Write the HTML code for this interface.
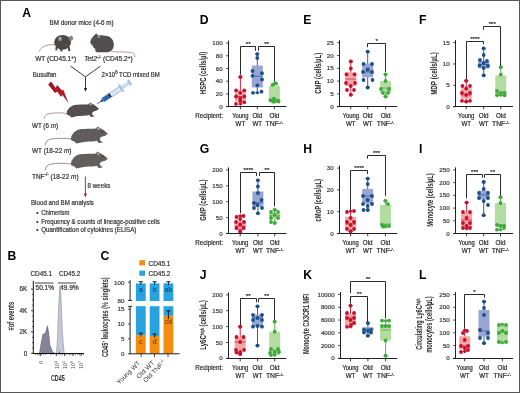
<!DOCTYPE html>
<html><head><meta charset="utf-8"><title>Figure</title>
<style>
html,body{margin:0;padding:0;background:#fff;}
svg{display:block;font-family:"Liberation Sans", sans-serif;will-change:transform;}
</style></head>
<body>
<svg width="520" height="393" viewBox="0 0 520 393">
<rect x="0.5" y="0.5" width="519" height="392" fill="#fff" stroke="#565656" stroke-width="1"/>
<text x="22.20" y="16.50" font-size="12.2" text-anchor="start" fill="#000" font-weight="bold">A</text>
<text x="49.60" y="25.00" font-size="6.4" text-anchor="start" fill="#333" stroke="#333" stroke-width="0.2" textLength="63.90" lengthAdjust="spacingAndGlyphs">BM donor mice (4-6 m)</text>
<path d="M55.5,44.8 C51,44.2 45,45 41.8,47.6 C40.3,48.8 39.6,50.3 39.6,51.6" fill="none" stroke="#a08e93" stroke-width="0.9"/>
<path d="M56.6,47 L56.3,50.4 M61.3,48 L61.3,51.6 M68.8,47 L69.4,51.1" stroke="#4c4645" stroke-width="2"/>
<ellipse cx="62.6" cy="42.3" rx="8.4" ry="7.4" fill="#4c4645"/>
<ellipse cx="71.0" cy="38.2" rx="2.1" ry="2.5" fill="#8a8086"/>
<ellipse cx="60.1" cy="38.9" rx="1.9" ry="2.1" fill="#a39ca1"/>
<circle cx="66" cy="45" r="1" fill="#6d686c" opacity="0.7"/>
<path d="M111.5,51.6 C119,52.2 127,51.6 131.5,52.6 C134,53.2 135,55 134.8,57.2" fill="none" stroke="#a08e93" stroke-width="0.9"/>
<path d="M90.3,42 C90.5,39.5 93,36 95.3,34.2 L96.4,33.2 L97.6,35.2 C100,35 104,35.2 107.5,36 C111.5,37.2 113.8,40.5 113.8,44.5 C113.8,48.5 112,51.5 108,52.2 L97,52.2 C95.5,52 95,50.7 95.4,49.2 C94,48.2 93,46.8 92.4,45.6 C91.4,44.6 90.3,43.5 90.3,42 Z" fill="#524e4f"/>
<ellipse cx="98.9" cy="36.6" rx="1.3" ry="1.6" fill="#9d9196"/>
<ellipse cx="92.8" cy="45.3" rx="1.1" ry="0.8" fill="#8d8589"/>
<text x="35.20" y="61.00" font-size="6.4" text-anchor="start" fill="#333" stroke="#333" stroke-width="0.2" textLength="40.90" lengthAdjust="spacingAndGlyphs">WT (CD45.1<tspan font-size="4.5" dy="-2.4">+</tspan><tspan dy="2.4">)</tspan></text>
<text x="84.20" y="61.30" font-size="6.4" text-anchor="start" fill="#333" stroke="#333" stroke-width="0.2" textLength="48.50" lengthAdjust="spacingAndGlyphs"><tspan font-style="italic">Tet2</tspan><tspan font-size="4.5" dy="-2.4">-/-</tspan><tspan dy="2.4"> (CD45.2</tspan><tspan font-size="4.5" dy="-2.4">+</tspan><tspan dy="2.4">)</tspan></text>
<path d="M70.6,66.2 L85.5,76.8 L100.4,66.2 M85.5,76.8 L85.5,88.5" fill="none" stroke="#222" stroke-width="0.9"/>
<path d="M83.9,88 L87.1,88 L85.5,91.8 Z" fill="#222"/>
<text x="32.80" y="76.80" font-size="6.4" text-anchor="start" fill="#333" stroke="#333" stroke-width="0.2" textLength="23.60" lengthAdjust="spacingAndGlyphs">Busulfan</text>
<text x="101.60" y="76.60" font-size="6.4" text-anchor="start" fill="#333" stroke="#333" stroke-width="0.2" textLength="58.20" lengthAdjust="spacingAndGlyphs">2×10<tspan font-size="4.5" dy="-2.4">6</tspan><tspan dy="2.4"> TCD mixed BM</tspan></text>
<path d="M48.2,84.4 L51.1,81.6 L55.7,88.0 L57.1,85.1 L62.1,90.8 L63.2,89.4 L68.5,103.3 L62.5,95.1 L61.0,96.7 L57.1,91.5 L55.0,93.0 Z" fill="#9c1222"/>
<path d="M50.8,83.2 L55.4,89.6 L57.2,87.2 L61.8,92.6 L63.0,91.5 L66.5,99.5 L62.2,93.8 L60.8,95.2 L57.0,89.9 L55.2,91.3 Z" fill="#d4212d" opacity="0.6"/>
<g transform="translate(97.4,103.6) rotate(-33.08)">
<rect x="0" y="-0.35" width="5" height="0.7" fill="#4a5568"/>
<rect x="4.5" y="-1.2" width="2.4" height="2.4" fill="#1d3f73"/>
<rect x="6.5" y="-2.3" width="21.5" height="4.6" fill="#d6e4f3" stroke="#6f93c2" stroke-width="0.5"/>
<rect x="6.7" y="-2.1" width="7.6" height="4.2" fill="#2f62a6"/>
<rect x="14.2" y="-2.1" width="1.5" height="4.2" fill="#141414"/>
<rect x="27.6" y="-3.9" width="1.6" height="7.8" fill="#bcd1ea" stroke="#7c9cc6" stroke-width="0.4"/>
<rect x="29.2" y="-1.2" width="8.6" height="2.4" fill="#d3e1f1" stroke="#8eabd0" stroke-width="0.4"/>
<rect x="37.6" y="-2.8" width="1.8" height="5.6" fill="#b7cde6" stroke="#7c9cc6" stroke-width="0.4"/>
</g>
<g transform="translate(66.70,117.30) scale(0.88)">
<path d="M0.5,-4.2 C-6,-5.4 -14,-5.2 -20,-4.2 C-23.5,-3.5 -25.5,-1.5 -25.8,2" fill="none" stroke="#a08e93" stroke-width="1"/>
<path d="M0,-3.8 C0,-7 0.5,-8 1.5,-8.9 C3,-11 4.5,-12.4 6.5,-13.2 C8.5,-14 10.5,-14.2 12.3,-14.3 C15,-14.5 17,-14.6 19.5,-14.6 C21.5,-14.7 23,-14.8 24.6,-14.9 L26.7,-16.8 L28.4,-15.6 C30,-14.8 31.5,-14 32.5,-13.2 C34,-12 35.5,-10.8 36.8,-9.6 C35.5,-8.4 34.5,-7.7 33.2,-7.4 C32,-7.1 30.8,-6.6 29.6,-6 L28.6,-3.6 L31.8,-0.8 L27.4,-0.2 L26,-2.6 C23.5,-1.9 20.5,-1.6 18,-1.7 C16,-1.6 14,-1.5 12.3,-1.4 L8,-0.2 L5.1,0.1 L3.6,-1.7 C1.8,-2.2 0.4,-2.8 0,-3.8 Z" fill="#524d4e"/>
<ellipse cx="27.3" cy="-14.6" rx="1.6" ry="1.3" fill="#a8959b"/>
<circle cx="31.6" cy="-11.6" r="0.6" fill="#151515"/>
<circle cx="8" cy="-9" r="1.0" fill="#6d686c" opacity="0.55"/>
<circle cx="13" cy="-11" r="0.8" fill="#6d686c" opacity="0.55"/>
<circle cx="17" cy="-7" r="1.0" fill="#6d686c" opacity="0.55"/>
<circle cx="21" cy="-10" r="0.8" fill="#6d686c" opacity="0.55"/>
<circle cx="11" cy="-5" r="0.8" fill="#6d686c" opacity="0.55"/>
<circle cx="24" cy="-6" r="0.7" fill="#6d686c" opacity="0.55"/>
<circle cx="5" cy="-6" r="0.7" fill="#6d686c" opacity="0.55"/>
</g>
<text x="32.00" y="127.70" font-size="6.4" text-anchor="start" fill="#333" stroke="#333" stroke-width="0.2" textLength="26.00" lengthAdjust="spacingAndGlyphs">WT (6 <tspan font-style="italic">m</tspan>)</text>
<g transform="translate(71.00,143.30) scale(1.0)">
<path d="M0.5,-4.2 C-6,-5.4 -14,-5.2 -20,-4.2 C-23.5,-3.5 -25.5,-1.5 -25.8,2" fill="none" stroke="#a08e93" stroke-width="1"/>
<path d="M0,-3.8 C0,-7 0.5,-8 1.5,-8.9 C3,-11 4.5,-12.4 6.5,-13.2 C8.5,-14 10.5,-14.2 12.3,-14.3 C15,-14.5 17,-14.6 19.5,-14.6 C21.5,-14.7 23,-14.8 24.6,-14.9 L26.7,-16.8 L28.4,-15.6 C30,-14.8 31.5,-14 32.5,-13.2 C34,-12 35.5,-10.8 36.8,-9.6 C35.5,-8.4 34.5,-7.7 33.2,-7.4 C32,-7.1 30.8,-6.6 29.6,-6 L28.6,-3.6 L31.8,-0.8 L27.4,-0.2 L26,-2.6 C23.5,-1.9 20.5,-1.6 18,-1.7 C16,-1.6 14,-1.5 12.3,-1.4 L8,-0.2 L5.1,0.1 L3.6,-1.7 C1.8,-2.2 0.4,-2.8 0,-3.8 Z" fill="#605b5c"/>
<ellipse cx="27.3" cy="-14.6" rx="1.6" ry="1.3" fill="#a8959b"/>
<circle cx="31.6" cy="-11.6" r="0.6" fill="#151515"/>
<circle cx="8" cy="-9" r="1.0" fill="#6d686c" opacity="0.55"/>
<circle cx="13" cy="-11" r="0.8" fill="#6d686c" opacity="0.55"/>
<circle cx="17" cy="-7" r="1.0" fill="#6d686c" opacity="0.55"/>
<circle cx="21" cy="-10" r="0.8" fill="#6d686c" opacity="0.55"/>
<circle cx="11" cy="-5" r="0.8" fill="#6d686c" opacity="0.55"/>
<circle cx="24" cy="-6" r="0.7" fill="#6d686c" opacity="0.55"/>
<circle cx="5" cy="-6" r="0.7" fill="#6d686c" opacity="0.55"/>
</g>
<text x="32.00" y="153.00" font-size="6.4" text-anchor="start" fill="#333" stroke="#333" stroke-width="0.2" textLength="39.50" lengthAdjust="spacingAndGlyphs">WT (18-22 <tspan font-style="italic">m</tspan>)</text>
<g transform="translate(71.00,168.30) scale(1.0)">
<path d="M0.5,-4.2 C-6,-5.4 -14,-5.2 -20,-4.2 C-23.5,-3.5 -25.5,-1.5 -25.8,2" fill="none" stroke="#a08e93" stroke-width="1"/>
<path d="M0,-3.8 C0,-7 0.5,-8 1.5,-8.9 C3,-11 4.5,-12.4 6.5,-13.2 C8.5,-14 10.5,-14.2 12.3,-14.3 C15,-14.5 17,-14.6 19.5,-14.6 C21.5,-14.7 23,-14.8 24.6,-14.9 L26.7,-16.8 L28.4,-15.6 C30,-14.8 31.5,-14 32.5,-13.2 C34,-12 35.5,-10.8 36.8,-9.6 C35.5,-8.4 34.5,-7.7 33.2,-7.4 C32,-7.1 30.8,-6.6 29.6,-6 L28.6,-3.6 L31.8,-0.8 L27.4,-0.2 L26,-2.6 C23.5,-1.9 20.5,-1.6 18,-1.7 C16,-1.6 14,-1.5 12.3,-1.4 L8,-0.2 L5.1,0.1 L3.6,-1.7 C1.8,-2.2 0.4,-2.8 0,-3.8 Z" fill="#625e5e"/>
<ellipse cx="27.3" cy="-14.6" rx="1.6" ry="1.3" fill="#a8959b"/>
<circle cx="31.6" cy="-11.6" r="0.6" fill="#151515"/>
<circle cx="8" cy="-9" r="1.0" fill="#6d686c" opacity="0.55"/>
<circle cx="13" cy="-11" r="0.8" fill="#6d686c" opacity="0.55"/>
<circle cx="17" cy="-7" r="1.0" fill="#6d686c" opacity="0.55"/>
<circle cx="21" cy="-10" r="0.8" fill="#6d686c" opacity="0.55"/>
<circle cx="11" cy="-5" r="0.8" fill="#6d686c" opacity="0.55"/>
<circle cx="24" cy="-6" r="0.7" fill="#6d686c" opacity="0.55"/>
<circle cx="5" cy="-6" r="0.7" fill="#6d686c" opacity="0.55"/>
</g>
<text x="32.00" y="178.50" font-size="6.4" text-anchor="start" fill="#333" stroke="#333" stroke-width="0.2" textLength="46.60" lengthAdjust="spacingAndGlyphs">TNF<tspan font-size="4.5" dy="-2.4">-/-</tspan><tspan dy="2.4"> (18-22 </tspan><tspan font-style="italic">m</tspan>)</text>
<line x1="85.4" y1="176.5" x2="85.4" y2="194" stroke="#8b2446" stroke-width="0.9"/>
<path d="M83.8,193.5 L87,193.5 L85.4,197.5 Z" fill="#8b2446"/>
<text x="87.60" y="188.00" font-size="6.4" text-anchor="start" fill="#333" stroke="#333" stroke-width="0.2" textLength="22.80" lengthAdjust="spacingAndGlyphs">8 weeks</text>
<text x="31.00" y="205.00" font-size="6.5" text-anchor="start" fill="#333" stroke="#333" stroke-width="0.2" textLength="62.90" lengthAdjust="spacingAndGlyphs">Blood and BM analysis</text>
<text x="36.30" y="215.20" font-size="6.4" text-anchor="start" fill="#333" stroke="#333" stroke-width="0.2">•</text>
<text x="41.20" y="215.00" font-size="6.5" text-anchor="start" fill="#333" stroke="#333" stroke-width="0.2" textLength="28.20" lengthAdjust="spacingAndGlyphs">Chimerism</text>
<text x="36.30" y="223.80" font-size="6.4" text-anchor="start" fill="#333" stroke="#333" stroke-width="0.2">•</text>
<text x="41.20" y="223.60" font-size="6.5" text-anchor="start" fill="#333" stroke="#333" stroke-width="0.2" textLength="118.60" lengthAdjust="spacingAndGlyphs">Frequency &amp; counts of lineage-positive cells</text>
<text x="36.30" y="232.30" font-size="6.4" text-anchor="start" fill="#333" stroke="#333" stroke-width="0.2">•</text>
<text x="41.20" y="232.10" font-size="6.5" text-anchor="start" fill="#333" stroke="#333" stroke-width="0.2" textLength="95.10" lengthAdjust="spacingAndGlyphs">Quantification of cytokines (ELISA)</text>
<text x="7.40" y="259.90" font-size="12.2" text-anchor="start" fill="#000" font-weight="bold">B</text>
<text x="30.50" y="275.50" font-size="6.3" text-anchor="start" fill="#333" stroke="#333" stroke-width="0.2" textLength="21.60" lengthAdjust="spacingAndGlyphs">CD45.1</text>
<text x="58.90" y="275.50" font-size="6.3" text-anchor="start" fill="#333" stroke="#333" stroke-width="0.2" textLength="21.40" lengthAdjust="spacingAndGlyphs">CD45.2</text>
<line x1="35.00" y1="283.00" x2="53.40" y2="283.00" stroke="#444" stroke-width="1.0"/>
<line x1="57.90" y1="283.00" x2="76.20" y2="283.00" stroke="#444" stroke-width="1.0"/>
<text x="35.60" y="290.00" font-size="6.3" text-anchor="start" fill="#333" stroke="#333" stroke-width="0.2" textLength="18.40" lengthAdjust="spacingAndGlyphs">50.1%</text>
<text x="59.90" y="290.00" font-size="6.3" text-anchor="start" fill="#333" stroke="#333" stroke-width="0.2" textLength="18.90" lengthAdjust="spacingAndGlyphs">49.9%</text>
<path d="M39,353.5 L39.7,352 L41.2,343 L42.9,334.2 L45.2,333.8 L47.5,325.8 L48.8,333.8 L49.8,344.8 L52.5,351.7 L55,353.5 Z" fill="#838497" stroke="#5b5c70" stroke-width="0.6"/>
<path d="M56,353.5 L57,347 L57.6,335 L58.2,318 L59,300 L59.6,290 L60.1,285.5 L60.6,290 L61.2,302 L61.8,318 L62.4,332 L63,340 L63.6,348 L64.3,353.5 Z" fill="#c6c8d4" stroke="#8a8da3" stroke-width="0.6"/>
<path d="M58.2,353.5 L59.4,350.5 L60.6,353.5 Z" fill="#838497"/>
<line x1="33.30" y1="280.80" x2="33.30" y2="353.90" stroke="#111" stroke-width="1.0"/>
<line x1="32.80" y1="353.50" x2="84.00" y2="353.50" stroke="#111" stroke-width="1.0"/>
<line x1="31.00" y1="289.00" x2="33.30" y2="289.00" stroke="#111" stroke-width="0.8"/>
<text x="27.20" y="291.20" font-size="6.3" text-anchor="end" fill="#333" stroke="#333" stroke-width="0.2">6K</text>
<line x1="31.00" y1="310.80" x2="33.30" y2="310.80" stroke="#111" stroke-width="0.8"/>
<text x="27.20" y="313.00" font-size="6.3" text-anchor="end" fill="#333" stroke="#333" stroke-width="0.2">4K</text>
<line x1="31.00" y1="331.80" x2="33.30" y2="331.80" stroke="#111" stroke-width="0.8"/>
<text x="27.20" y="334.00" font-size="6.3" text-anchor="end" fill="#333" stroke="#333" stroke-width="0.2">2K</text>
<line x1="31.00" y1="353.30" x2="33.30" y2="353.30" stroke="#111" stroke-width="0.8"/>
<text x="27.20" y="355.50" font-size="6.3" text-anchor="end" fill="#333" stroke="#333" stroke-width="0.2">0</text>
<line x1="31.90" y1="347.95" x2="33.30" y2="347.95" stroke="#111" stroke-width="0.6"/>
<line x1="31.90" y1="342.60" x2="33.30" y2="342.60" stroke="#111" stroke-width="0.6"/>
<line x1="31.90" y1="337.25" x2="33.30" y2="337.25" stroke="#111" stroke-width="0.6"/>
<line x1="31.90" y1="326.55" x2="33.30" y2="326.55" stroke="#111" stroke-width="0.6"/>
<line x1="31.90" y1="321.20" x2="33.30" y2="321.20" stroke="#111" stroke-width="0.6"/>
<line x1="31.90" y1="315.85" x2="33.30" y2="315.85" stroke="#111" stroke-width="0.6"/>
<line x1="31.90" y1="305.15" x2="33.30" y2="305.15" stroke="#111" stroke-width="0.6"/>
<line x1="31.90" y1="299.80" x2="33.30" y2="299.80" stroke="#111" stroke-width="0.6"/>
<line x1="31.90" y1="294.45" x2="33.30" y2="294.45" stroke="#111" stroke-width="0.6"/>
<line x1="35.50" y1="353.50" x2="35.50" y2="355.20" stroke="#111" stroke-width="0.5"/>
<line x1="37.50" y1="353.50" x2="37.50" y2="355.20" stroke="#111" stroke-width="0.5"/>
<line x1="39.00" y1="353.50" x2="39.00" y2="355.20" stroke="#111" stroke-width="0.5"/>
<line x1="40.30" y1="353.50" x2="40.30" y2="355.20" stroke="#111" stroke-width="0.5"/>
<line x1="41.50" y1="353.50" x2="41.50" y2="355.20" stroke="#111" stroke-width="0.5"/>
<line x1="43.50" y1="353.50" x2="43.50" y2="355.20" stroke="#111" stroke-width="0.5"/>
<line x1="46.00" y1="353.50" x2="46.00" y2="355.20" stroke="#111" stroke-width="0.5"/>
<line x1="50.50" y1="353.50" x2="50.50" y2="355.20" stroke="#111" stroke-width="0.5"/>
<line x1="53.00" y1="353.50" x2="53.00" y2="355.20" stroke="#111" stroke-width="0.5"/>
<line x1="56.30" y1="353.50" x2="56.30" y2="355.20" stroke="#111" stroke-width="0.5"/>
<line x1="58.80" y1="353.50" x2="58.80" y2="355.20" stroke="#111" stroke-width="0.5"/>
<line x1="61.00" y1="353.50" x2="61.00" y2="355.20" stroke="#111" stroke-width="0.5"/>
<line x1="62.50" y1="353.50" x2="62.50" y2="355.20" stroke="#111" stroke-width="0.5"/>
<line x1="64.70" y1="353.50" x2="64.70" y2="355.20" stroke="#111" stroke-width="0.5"/>
<line x1="67.00" y1="353.50" x2="67.00" y2="355.20" stroke="#111" stroke-width="0.5"/>
<line x1="69.50" y1="353.50" x2="69.50" y2="355.20" stroke="#111" stroke-width="0.5"/>
<line x1="71.00" y1="353.50" x2="71.00" y2="355.20" stroke="#111" stroke-width="0.5"/>
<line x1="73.00" y1="353.50" x2="73.00" y2="355.20" stroke="#111" stroke-width="0.5"/>
<line x1="75.50" y1="353.50" x2="75.50" y2="355.20" stroke="#111" stroke-width="0.5"/>
<line x1="78.00" y1="353.50" x2="78.00" y2="355.20" stroke="#111" stroke-width="0.5"/>
<line x1="79.50" y1="353.50" x2="79.50" y2="355.20" stroke="#111" stroke-width="0.5"/>
<line x1="81.20" y1="353.50" x2="81.20" y2="355.20" stroke="#111" stroke-width="0.5"/>
<line x1="83.50" y1="353.50" x2="83.50" y2="355.20" stroke="#111" stroke-width="0.5"/>
<line x1="40.30" y1="353.50" x2="40.30" y2="356.20" stroke="#111" stroke-width="0.7"/>
<line x1="56.30" y1="353.50" x2="56.30" y2="356.20" stroke="#111" stroke-width="0.7"/>
<line x1="64.70" y1="353.50" x2="64.70" y2="356.20" stroke="#111" stroke-width="0.7"/>
<line x1="73.00" y1="353.50" x2="73.00" y2="356.20" stroke="#111" stroke-width="0.7"/>
<line x1="81.20" y1="353.50" x2="81.20" y2="356.20" stroke="#111" stroke-width="0.7"/>
<text transform="translate(42.5,362.2) rotate(-90)" font-size="5.2" text-anchor="middle" fill="#444">0</text>
<text transform="translate(58.50,368.9) rotate(-90)" font-size="5.2" fill="#444">10<tspan font-size="3.6" dy="-2.0">4</tspan></text>
<text transform="translate(66.60,368.9) rotate(-90)" font-size="5.2" fill="#444">10<tspan font-size="3.6" dy="-2.0">5</tspan></text>
<text transform="translate(74.80,368.9) rotate(-90)" font-size="5.2" fill="#444">10<tspan font-size="3.6" dy="-2.0">6</tspan></text>
<text transform="translate(83.00,368.9) rotate(-90)" font-size="5.2" fill="#444">10<tspan font-size="3.6" dy="-2.0">7</tspan></text>
<text x="50.9" y="380.8" font-size="8.8" font-weight="bold" fill="#2a2a2a" textLength="13.8" lengthAdjust="spacingAndGlyphs">CD45</text>
<text transform="translate(14.2,316.2) rotate(-90)" font-size="8.4" font-weight="bold" text-anchor="middle" fill="#2a2a2a" textLength="28.6" lengthAdjust="spacingAndGlyphs">#of events</text>
<text x="100.50" y="259.80" font-size="12.2" text-anchor="start" fill="#000" font-weight="bold">C</text>
<rect x="139.30" y="260.20" width="5.70" height="5.20" fill="#f48c10"/>
<text x="148.50" y="265.60" font-size="6.3" text-anchor="start" fill="#333" stroke="#333" stroke-width="0.2" textLength="21.90" lengthAdjust="spacingAndGlyphs">CD45.1</text>
<rect x="139.30" y="270.60" width="5.70" height="5.20" fill="#27a3df"/>
<text x="148.50" y="276.00" font-size="6.3" text-anchor="start" fill="#333" stroke="#333" stroke-width="0.2" textLength="21.90" lengthAdjust="spacingAndGlyphs">CD45.2</text>
<rect x="135.90" y="283.40" width="9.80" height="17.60" fill="#27a3df"/>
<rect x="135.90" y="306.20" width="9.80" height="28.90" fill="#27a3df"/>
<rect x="135.90" y="335.10" width="9.80" height="18.70" fill="#f48c10"/>
<rect x="149.70" y="283.40" width="9.80" height="17.60" fill="#27a3df"/>
<rect x="149.70" y="306.20" width="9.80" height="29.80" fill="#27a3df"/>
<rect x="149.70" y="336.00" width="9.80" height="17.80" fill="#f48c10"/>
<rect x="163.50" y="283.40" width="9.80" height="17.60" fill="#27a3df"/>
<rect x="163.50" y="306.20" width="9.80" height="9.60" fill="#27a3df"/>
<rect x="163.50" y="315.80" width="9.80" height="38.00" fill="#f48c10"/>
<line x1="140.80" y1="281.50" x2="140.80" y2="285.00" stroke="#1a2a3a" stroke-width="1.0"/>
<line x1="138.80" y1="281.70" x2="142.80" y2="281.70" stroke="#1a2a3a" stroke-width="1.1"/>
<line x1="154.60" y1="281.50" x2="154.60" y2="285.00" stroke="#1a2a3a" stroke-width="1.0"/>
<line x1="152.60" y1="281.70" x2="156.60" y2="281.70" stroke="#1a2a3a" stroke-width="1.1"/>
<line x1="168.40" y1="281.50" x2="168.40" y2="285.00" stroke="#1a2a3a" stroke-width="1.0"/>
<line x1="166.40" y1="281.70" x2="170.40" y2="281.70" stroke="#1a2a3a" stroke-width="1.1"/>
<line x1="140.80" y1="333.00" x2="140.80" y2="336.60" stroke="#1a2a3a" stroke-width="1.1"/>
<line x1="138.80" y1="333.30" x2="142.80" y2="333.30" stroke="#1a2a3a" stroke-width="1.2"/>
<line x1="154.60" y1="333.80" x2="154.60" y2="337.50" stroke="#1a2a3a" stroke-width="1.1"/>
<line x1="152.60" y1="334.10" x2="156.60" y2="334.10" stroke="#1a2a3a" stroke-width="1.2"/>
<line x1="168.40" y1="310.60" x2="168.40" y2="319.30" stroke="#1a2a3a" stroke-width="1.1"/>
<line x1="166.40" y1="310.90" x2="170.40" y2="310.90" stroke="#1a2a3a" stroke-width="1.2"/>
<text x="140.80" y="291.80" font-size="6.8" text-anchor="middle" fill="#1f4f7a" stroke="#1f4f7a" stroke-width="0.2">a</text>
<text x="154.60" y="291.80" font-size="6.8" text-anchor="middle" fill="#1f4f7a" stroke="#1f4f7a" stroke-width="0.2">b</text>
<text x="168.40" y="291.80" font-size="6.8" text-anchor="middle" fill="#1f4f7a" stroke="#1f4f7a" stroke-width="0.2">ab</text>
<text x="140.80" y="344.20" font-size="6.8" text-anchor="middle" fill="#7a4a12" stroke="#7a4a12" stroke-width="0.2">c</text>
<text x="154.60" y="344.20" font-size="6.8" text-anchor="middle" fill="#7a4a12" stroke="#7a4a12" stroke-width="0.2">d</text>
<text x="168.40" y="324.00" font-size="6.8" text-anchor="middle" fill="#7a4a12" stroke="#7a4a12" stroke-width="0.2">cd</text>
<line x1="130.10" y1="280.20" x2="130.10" y2="300.60" stroke="#222" stroke-width="1.0"/>
<line x1="127.90" y1="282.20" x2="130.10" y2="282.20" stroke="#222" stroke-width="0.8"/>
<line x1="127.90" y1="300.50" x2="132.20" y2="300.50" stroke="#222" stroke-width="0.9"/>
<line x1="127.90" y1="306.40" x2="132.20" y2="306.40" stroke="#222" stroke-width="0.9"/>
<line x1="130.10" y1="306.00" x2="130.10" y2="354.20" stroke="#222" stroke-width="1.0"/>
<line x1="127.90" y1="309.20" x2="130.10" y2="309.20" stroke="#222" stroke-width="0.8"/>
<text x="124.40" y="311.30" font-size="6.2" text-anchor="end" fill="#3a3a3a" stroke="#3a3a3a" stroke-width="0.2">15</text>
<line x1="127.90" y1="323.90" x2="130.10" y2="323.90" stroke="#222" stroke-width="0.8"/>
<text x="124.40" y="326.00" font-size="6.2" text-anchor="end" fill="#3a3a3a" stroke="#3a3a3a" stroke-width="0.2">10</text>
<line x1="127.90" y1="338.80" x2="130.10" y2="338.80" stroke="#222" stroke-width="0.8"/>
<text x="124.40" y="340.90" font-size="6.2" text-anchor="end" fill="#3a3a3a" stroke="#3a3a3a" stroke-width="0.2">5</text>
<line x1="127.90" y1="353.80" x2="130.10" y2="353.80" stroke="#222" stroke-width="0.8"/>
<text x="124.40" y="355.90" font-size="6.2" text-anchor="end" fill="#3a3a3a" stroke="#3a3a3a" stroke-width="0.2">0</text>
<text x="124.40" y="285.30" font-size="6.2" text-anchor="end" fill="#3a3a3a" stroke="#3a3a3a" stroke-width="0.2">100</text>
<text x="124.40" y="303.10" font-size="6.2" text-anchor="end" fill="#3a3a3a" stroke="#3a3a3a" stroke-width="0.2">80</text>
<line x1="129.60" y1="353.80" x2="179.60" y2="353.80" stroke="#222" stroke-width="1.0"/>
<line x1="141.20" y1="353.80" x2="141.20" y2="357.00" stroke="#222" stroke-width="0.8"/>
<line x1="154.50" y1="353.80" x2="154.50" y2="357.00" stroke="#222" stroke-width="0.8"/>
<line x1="168.00" y1="353.80" x2="168.00" y2="357.00" stroke="#222" stroke-width="0.8"/>
<text transform="translate(107.7,317.2) rotate(-90)" font-size="8.6" font-weight="bold" text-anchor="middle" fill="#2a2a2a" textLength="79.7" lengthAdjust="spacingAndGlyphs">CD45<tspan font-size="4.8" dy="-2.6">+</tspan><tspan dy="2.6"> leukocytes (% singlets)</tspan></text>
<text transform="translate(140.60,363.50) rotate(-45)" font-size="6.5" text-anchor="end" fill="#2a2a2a">Young WT</text>
<text transform="translate(154.70,363.30) rotate(-45)" font-size="6.5" text-anchor="end" fill="#2a2a2a">Old WT</text>
<text transform="translate(166.30,362.30) rotate(-45)" font-size="6.5" text-anchor="end" fill="#2a2a2a">Old TNF<tspan font-size="4.8" dy="-2.4">-/-</tspan></text>
<line x1="240.40" y1="77.00" x2="240.40" y2="104.00" stroke="#c80f2d" stroke-width="0.9"/>
<rect x="234.90" y="90.30" width="11.00" height="11.20" fill="#f2a6a6"/>
<line x1="234.90" y1="96.50" x2="245.90" y2="96.50" stroke="#c80f2d" stroke-width="0.8" opacity="0.8"/>
<path d="M240.40,75.20 L242.80,77.00 L240.40,78.80 L238.00,77.00 Z" fill="#c80f2d"/>
<path d="M240.40,102.20 L242.80,104.00 L240.40,105.80 L238.00,104.00 Z" fill="#c80f2d"/>
<circle cx="240.40" cy="77.00" r="1.9" fill="#c80f2d"/>
<circle cx="236.10" cy="90.30" r="1.9" fill="#c80f2d"/>
<circle cx="244.30" cy="90.30" r="1.9" fill="#c80f2d"/>
<circle cx="240.30" cy="92.80" r="1.9" fill="#c80f2d"/>
<circle cx="236.10" cy="96.50" r="1.9" fill="#c80f2d"/>
<circle cx="244.30" cy="96.50" r="1.9" fill="#c80f2d"/>
<circle cx="240.30" cy="98.50" r="1.9" fill="#c80f2d"/>
<circle cx="240.30" cy="101.20" r="1.9" fill="#c80f2d"/>
<circle cx="244.30" cy="102.30" r="1.9" fill="#c80f2d"/>
<circle cx="236.00" cy="103.90" r="1.9" fill="#c80f2d"/>
<line x1="257.30" y1="54.10" x2="257.30" y2="92.70" stroke="#1d4f8a" stroke-width="0.9"/>
<rect x="251.80" y="65.50" width="11.00" height="22.00" fill="#98a5d3"/>
<line x1="251.80" y1="76.20" x2="262.80" y2="76.20" stroke="#1d4f8a" stroke-width="0.8" opacity="0.8"/>
<path d="M257.30,52.30 L259.70,54.10 L257.30,55.90 L254.90,54.10 Z" fill="#1d4f8a"/>
<path d="M257.30,90.90 L259.70,92.70 L257.30,94.50 L254.90,92.70 Z" fill="#1d4f8a"/>
<circle cx="257.30" cy="54.10" r="1.9" fill="#1d4f8a"/>
<circle cx="257.30" cy="58.00" r="1.9" fill="#1d4f8a"/>
<circle cx="252.50" cy="71.00" r="1.9" fill="#1d4f8a"/>
<circle cx="262.00" cy="73.20" r="1.9" fill="#1d4f8a"/>
<circle cx="252.50" cy="75.80" r="1.9" fill="#1d4f8a"/>
<circle cx="262.00" cy="79.50" r="1.9" fill="#1d4f8a"/>
<circle cx="257.30" cy="85.30" r="1.9" fill="#1d4f8a"/>
<circle cx="253.00" cy="92.80" r="1.9" fill="#1d4f8a"/>
<circle cx="261.50" cy="91.70" r="1.9" fill="#1d4f8a"/>
<line x1="274.40" y1="83.50" x2="274.40" y2="102.00" stroke="#3eaa3a" stroke-width="0.9"/>
<rect x="268.90" y="86.00" width="11.00" height="15.70" fill="#b3dca1"/>
<line x1="268.90" y1="99.50" x2="279.90" y2="99.50" stroke="#3eaa3a" stroke-width="0.8" opacity="0.8"/>
<path d="M274.40,81.70 L276.80,83.50 L274.40,85.30 L272.00,83.50 Z" fill="#3eaa3a"/>
<path d="M274.40,100.20 L276.80,102.00 L274.40,103.80 L272.00,102.00 Z" fill="#3eaa3a"/>
<circle cx="272.50" cy="84.80" r="1.9" fill="#3eaa3a"/>
<circle cx="276.00" cy="83.50" r="1.9" fill="#3eaa3a"/>
<circle cx="270.50" cy="100.20" r="1.9" fill="#3eaa3a"/>
<circle cx="274.00" cy="98.60" r="1.9" fill="#3eaa3a"/>
<circle cx="277.50" cy="100.70" r="1.9" fill="#3eaa3a"/>
<circle cx="273.00" cy="101.50" r="1.9" fill="#3eaa3a"/>
<circle cx="278.50" cy="101.50" r="1.9" fill="#3eaa3a"/>
<line x1="228.50" y1="40.60" x2="228.50" y2="107.00" stroke="#222" stroke-width="1.0"/>
<line x1="226.10" y1="106.50" x2="286.40" y2="106.50" stroke="#222" stroke-width="1.0"/>
<line x1="226.10" y1="106.60" x2="228.50" y2="106.60" stroke="#222" stroke-width="0.8"/>
<text x="222.70" y="108.60" font-size="6.2" text-anchor="end" fill="#3a3a3a" stroke="#3a3a3a" stroke-width="0.2">0</text>
<line x1="226.10" y1="93.90" x2="228.50" y2="93.90" stroke="#222" stroke-width="0.8"/>
<text x="222.70" y="95.90" font-size="6.2" text-anchor="end" fill="#3a3a3a" stroke="#3a3a3a" stroke-width="0.2">20</text>
<line x1="226.10" y1="81.20" x2="228.50" y2="81.20" stroke="#222" stroke-width="0.8"/>
<text x="222.70" y="83.20" font-size="6.2" text-anchor="end" fill="#3a3a3a" stroke="#3a3a3a" stroke-width="0.2">40</text>
<line x1="226.10" y1="68.50" x2="228.50" y2="68.50" stroke="#222" stroke-width="0.8"/>
<text x="222.70" y="70.50" font-size="6.2" text-anchor="end" fill="#3a3a3a" stroke="#3a3a3a" stroke-width="0.2">60</text>
<line x1="226.10" y1="55.80" x2="228.50" y2="55.80" stroke="#222" stroke-width="0.8"/>
<text x="222.70" y="57.80" font-size="6.2" text-anchor="end" fill="#3a3a3a" stroke="#3a3a3a" stroke-width="0.2">80</text>
<line x1="226.10" y1="43.10" x2="228.50" y2="43.10" stroke="#222" stroke-width="0.8"/>
<text x="222.70" y="45.10" font-size="6.2" text-anchor="end" fill="#3a3a3a" stroke="#3a3a3a" stroke-width="0.2">100</text>
<line x1="240.40" y1="106.50" x2="240.40" y2="109.30" stroke="#222" stroke-width="0.9"/>
<line x1="257.30" y1="106.50" x2="257.30" y2="109.30" stroke="#222" stroke-width="0.9"/>
<line x1="274.40" y1="106.50" x2="274.40" y2="109.30" stroke="#222" stroke-width="0.9"/>
<path d="M240.50,74.70 L240.50,46.50 L255.50,46.50 L255.50,50.80" fill="none" stroke="#2a2a2a" stroke-width="1"/>
<text x="248.20" y="45.90" font-size="6.2" text-anchor="middle" fill="#333" stroke="#333" stroke-width="0.2">**</text>
<path d="M258.50,50.80 L258.50,46.50 L274.50,46.50 L274.50,81.70" fill="none" stroke="#2a2a2a" stroke-width="1"/>
<text x="266.55" y="45.90" font-size="6.2" text-anchor="middle" fill="#333" stroke="#333" stroke-width="0.2">**</text>
<text x="199.80" y="23.80" font-size="12.2" text-anchor="start" fill="#000" font-weight="bold">D</text>
<text transform="translate(206.00,73.00) rotate(-90)" font-size="8.2" font-weight="bold" text-anchor="middle" fill="#2a2a2a" textLength="42.3" lengthAdjust="spacingAndGlyphs">HSPC (cells/µl)</text>
<text x="240.40" y="118.10" font-size="6.4" text-anchor="middle" fill="#2a2a2a" stroke="#2a2a2a" stroke-width="0.2" textLength="16.20" lengthAdjust="spacingAndGlyphs">Young</text>
<text x="240.40" y="125.90" font-size="6.4" text-anchor="middle" fill="#2a2a2a" stroke="#2a2a2a" stroke-width="0.2" textLength="9.60" lengthAdjust="spacingAndGlyphs">WT</text>
<text x="257.30" y="118.10" font-size="6.4" text-anchor="middle" fill="#2a2a2a" stroke="#2a2a2a" stroke-width="0.2" textLength="9.80" lengthAdjust="spacingAndGlyphs">Old</text>
<text x="257.30" y="125.90" font-size="6.4" text-anchor="middle" fill="#2a2a2a" stroke="#2a2a2a" stroke-width="0.2" textLength="9.60" lengthAdjust="spacingAndGlyphs">WT</text>
<text x="274.40" y="118.10" font-size="6.4" text-anchor="middle" fill="#2a2a2a" stroke="#2a2a2a" stroke-width="0.2" textLength="9.80" lengthAdjust="spacingAndGlyphs">Old</text>
<text x="265.60" y="125.90" font-size="6.4" text-anchor="start" fill="#2a2a2a" stroke="#2a2a2a" stroke-width="0.2" textLength="17.60" lengthAdjust="spacingAndGlyphs">TNF<tspan font-size="4.4" dy="-2.3">-/-</tspan></text>
<text x="195.20" y="118.10" font-size="6.4" text-anchor="start" fill="#2a2a2a" stroke="#2a2a2a" stroke-width="0.2" textLength="27.80" lengthAdjust="spacingAndGlyphs">Recipient:</text>
<line x1="350.80" y1="61.40" x2="350.80" y2="94.80" stroke="#c80f2d" stroke-width="0.9"/>
<rect x="345.30" y="72.40" width="11.00" height="13.60" fill="#f2a6a6"/>
<line x1="345.30" y1="79.00" x2="356.30" y2="79.00" stroke="#c80f2d" stroke-width="0.8" opacity="0.8"/>
<path d="M350.80,59.60 L353.20,61.40 L350.80,63.20 L348.40,61.40 Z" fill="#c80f2d"/>
<path d="M350.80,93.00 L353.20,94.80 L350.80,96.60 L348.40,94.80 Z" fill="#c80f2d"/>
<circle cx="350.80" cy="61.40" r="1.9" fill="#c80f2d"/>
<circle cx="350.80" cy="68.50" r="1.9" fill="#c80f2d"/>
<circle cx="346.50" cy="74.40" r="1.9" fill="#c80f2d"/>
<circle cx="354.50" cy="74.40" r="1.9" fill="#c80f2d"/>
<circle cx="346.00" cy="83.00" r="1.9" fill="#c80f2d"/>
<circle cx="355.00" cy="83.00" r="1.9" fill="#c80f2d"/>
<circle cx="350.80" cy="86.00" r="1.9" fill="#c80f2d"/>
<circle cx="347.00" cy="90.00" r="1.9" fill="#c80f2d"/>
<circle cx="354.00" cy="90.00" r="1.9" fill="#c80f2d"/>
<circle cx="350.80" cy="94.80" r="1.9" fill="#c80f2d"/>
<line x1="367.70" y1="51.70" x2="367.70" y2="87.50" stroke="#1d4f8a" stroke-width="0.9"/>
<rect x="362.20" y="63.60" width="11.00" height="13.80" fill="#98a5d3"/>
<line x1="362.20" y1="71.90" x2="373.20" y2="71.90" stroke="#1d4f8a" stroke-width="0.8" opacity="0.8"/>
<path d="M367.70,49.90 L370.10,51.70 L367.70,53.50 L365.30,51.70 Z" fill="#1d4f8a"/>
<path d="M367.70,85.70 L370.10,87.50 L367.70,89.30 L365.30,87.50 Z" fill="#1d4f8a"/>
<circle cx="367.70" cy="51.70" r="1.9" fill="#1d4f8a"/>
<circle cx="363.50" cy="64.00" r="1.9" fill="#1d4f8a"/>
<circle cx="372.00" cy="64.00" r="1.9" fill="#1d4f8a"/>
<circle cx="367.70" cy="69.50" r="1.9" fill="#1d4f8a"/>
<circle cx="363.00" cy="72.00" r="1.9" fill="#1d4f8a"/>
<circle cx="372.00" cy="72.00" r="1.9" fill="#1d4f8a"/>
<circle cx="363.50" cy="80.00" r="1.9" fill="#1d4f8a"/>
<circle cx="372.50" cy="80.00" r="1.9" fill="#1d4f8a"/>
<circle cx="367.70" cy="87.50" r="1.9" fill="#1d4f8a"/>
<line x1="385.60" y1="74.30" x2="385.60" y2="96.60" stroke="#3eaa3a" stroke-width="0.9"/>
<rect x="380.10" y="81.00" width="11.00" height="12.00" fill="#b3dca1"/>
<line x1="380.10" y1="88.00" x2="391.10" y2="88.00" stroke="#3eaa3a" stroke-width="0.8" opacity="0.8"/>
<path d="M385.60,72.50 L388.00,74.30 L385.60,76.10 L383.20,74.30 Z" fill="#3eaa3a"/>
<path d="M385.60,94.80 L388.00,96.60 L385.60,98.40 L383.20,96.60 Z" fill="#3eaa3a"/>
<circle cx="385.60" cy="74.30" r="1.9" fill="#3eaa3a"/>
<circle cx="385.60" cy="81.00" r="1.9" fill="#3eaa3a"/>
<circle cx="381.00" cy="89.00" r="1.9" fill="#3eaa3a"/>
<circle cx="389.00" cy="89.00" r="1.9" fill="#3eaa3a"/>
<circle cx="383.00" cy="93.00" r="1.9" fill="#3eaa3a"/>
<circle cx="388.00" cy="93.00" r="1.9" fill="#3eaa3a"/>
<circle cx="385.60" cy="96.60" r="1.9" fill="#3eaa3a"/>
<line x1="339.50" y1="40.20" x2="339.50" y2="107.00" stroke="#222" stroke-width="1.0"/>
<line x1="337.10" y1="106.50" x2="397.30" y2="106.50" stroke="#222" stroke-width="1.0"/>
<line x1="337.10" y1="106.70" x2="339.50" y2="106.70" stroke="#222" stroke-width="0.8"/>
<text x="333.70" y="108.70" font-size="6.2" text-anchor="end" fill="#3a3a3a" stroke="#3a3a3a" stroke-width="0.2">0</text>
<line x1="337.10" y1="93.90" x2="339.50" y2="93.90" stroke="#222" stroke-width="0.8"/>
<text x="333.70" y="95.90" font-size="6.2" text-anchor="end" fill="#3a3a3a" stroke="#3a3a3a" stroke-width="0.2">5</text>
<line x1="337.10" y1="81.10" x2="339.50" y2="81.10" stroke="#222" stroke-width="0.8"/>
<text x="333.70" y="83.10" font-size="6.2" text-anchor="end" fill="#3a3a3a" stroke="#3a3a3a" stroke-width="0.2">10</text>
<line x1="337.10" y1="68.30" x2="339.50" y2="68.30" stroke="#222" stroke-width="0.8"/>
<text x="333.70" y="70.30" font-size="6.2" text-anchor="end" fill="#3a3a3a" stroke="#3a3a3a" stroke-width="0.2">15</text>
<line x1="337.10" y1="55.50" x2="339.50" y2="55.50" stroke="#222" stroke-width="0.8"/>
<text x="333.70" y="57.50" font-size="6.2" text-anchor="end" fill="#3a3a3a" stroke="#3a3a3a" stroke-width="0.2">20</text>
<line x1="337.10" y1="42.70" x2="339.50" y2="42.70" stroke="#222" stroke-width="0.8"/>
<text x="333.70" y="44.70" font-size="6.2" text-anchor="end" fill="#3a3a3a" stroke="#3a3a3a" stroke-width="0.2">25</text>
<line x1="350.80" y1="106.50" x2="350.80" y2="109.30" stroke="#222" stroke-width="0.9"/>
<line x1="367.70" y1="106.50" x2="367.70" y2="109.30" stroke="#222" stroke-width="0.9"/>
<line x1="385.60" y1="106.50" x2="385.60" y2="109.30" stroke="#222" stroke-width="0.9"/>
<path d="M367.50,47.20 L367.50,43.50 L385.50,43.50 L385.50,71.90" fill="none" stroke="#2a2a2a" stroke-width="1"/>
<text x="376.65" y="43.10" font-size="6.2" text-anchor="middle" fill="#333" stroke="#333" stroke-width="0.2">*</text>
<text x="303.20" y="23.60" font-size="12.2" text-anchor="start" fill="#000" font-weight="bold">E</text>
<text transform="translate(320.60,73.30) rotate(-90)" font-size="8.2" font-weight="bold" text-anchor="middle" fill="#2a2a2a" textLength="41.0" lengthAdjust="spacingAndGlyphs">CMP (cells/µL)</text>
<text x="350.80" y="118.10" font-size="6.4" text-anchor="middle" fill="#2a2a2a" stroke="#2a2a2a" stroke-width="0.2" textLength="16.20" lengthAdjust="spacingAndGlyphs">Young</text>
<text x="350.80" y="125.90" font-size="6.4" text-anchor="middle" fill="#2a2a2a" stroke="#2a2a2a" stroke-width="0.2" textLength="9.60" lengthAdjust="spacingAndGlyphs">WT</text>
<text x="367.70" y="118.10" font-size="6.4" text-anchor="middle" fill="#2a2a2a" stroke="#2a2a2a" stroke-width="0.2" textLength="9.80" lengthAdjust="spacingAndGlyphs">Old</text>
<text x="367.70" y="125.90" font-size="6.4" text-anchor="middle" fill="#2a2a2a" stroke="#2a2a2a" stroke-width="0.2" textLength="9.60" lengthAdjust="spacingAndGlyphs">WT</text>
<text x="385.60" y="118.10" font-size="6.4" text-anchor="middle" fill="#2a2a2a" stroke="#2a2a2a" stroke-width="0.2" textLength="9.80" lengthAdjust="spacingAndGlyphs">Old</text>
<text x="376.80" y="125.90" font-size="6.4" text-anchor="start" fill="#2a2a2a" stroke="#2a2a2a" stroke-width="0.2" textLength="17.60" lengthAdjust="spacingAndGlyphs">TNF<tspan font-size="4.4" dy="-2.3">-/-</tspan></text>
<line x1="466.20" y1="80.80" x2="466.20" y2="101.60" stroke="#c80f2d" stroke-width="0.9"/>
<rect x="460.70" y="88.30" width="11.00" height="10.50" fill="#f2a6a6"/>
<line x1="460.70" y1="95.00" x2="471.70" y2="95.00" stroke="#c80f2d" stroke-width="0.8" opacity="0.8"/>
<path d="M466.20,79.00 L468.60,80.80 L466.20,82.60 L463.80,80.80 Z" fill="#c80f2d"/>
<path d="M466.20,99.80 L468.60,101.60 L466.20,103.40 L463.80,101.60 Z" fill="#c80f2d"/>
<circle cx="466.20" cy="80.80" r="1.9" fill="#c80f2d"/>
<circle cx="462.50" cy="86.00" r="1.9" fill="#c80f2d"/>
<circle cx="470.00" cy="86.00" r="1.9" fill="#c80f2d"/>
<circle cx="466.20" cy="88.50" r="1.9" fill="#c80f2d"/>
<circle cx="462.00" cy="93.00" r="1.9" fill="#c80f2d"/>
<circle cx="470.00" cy="93.00" r="1.9" fill="#c80f2d"/>
<circle cx="466.20" cy="95.00" r="1.9" fill="#c80f2d"/>
<circle cx="462.00" cy="100.80" r="1.9" fill="#c80f2d"/>
<circle cx="466.20" cy="101.60" r="1.9" fill="#c80f2d"/>
<circle cx="470.00" cy="100.80" r="1.9" fill="#c80f2d"/>
<line x1="483.70" y1="48.40" x2="483.70" y2="75.40" stroke="#1d4f8a" stroke-width="0.9"/>
<rect x="478.20" y="61.30" width="11.00" height="7.00" fill="#98a5d3"/>
<line x1="478.20" y1="64.50" x2="489.20" y2="64.50" stroke="#1d4f8a" stroke-width="0.8" opacity="0.8"/>
<path d="M483.70,46.60 L486.10,48.40 L483.70,50.20 L481.30,48.40 Z" fill="#1d4f8a"/>
<path d="M483.70,73.60 L486.10,75.40 L483.70,77.20 L481.30,75.40 Z" fill="#1d4f8a"/>
<circle cx="483.70" cy="48.40" r="1.9" fill="#1d4f8a"/>
<circle cx="483.70" cy="55.00" r="1.9" fill="#1d4f8a"/>
<circle cx="480.00" cy="60.00" r="1.9" fill="#1d4f8a"/>
<circle cx="487.00" cy="61.00" r="1.9" fill="#1d4f8a"/>
<circle cx="483.70" cy="63.00" r="1.9" fill="#1d4f8a"/>
<circle cx="479.50" cy="65.50" r="1.9" fill="#1d4f8a"/>
<circle cx="488.00" cy="66.00" r="1.9" fill="#1d4f8a"/>
<circle cx="483.70" cy="68.00" r="1.9" fill="#1d4f8a"/>
<circle cx="483.70" cy="75.40" r="1.9" fill="#1d4f8a"/>
<line x1="500.80" y1="67.20" x2="500.80" y2="95.30" stroke="#3eaa3a" stroke-width="0.9"/>
<rect x="495.30" y="75.40" width="11.00" height="19.90" fill="#b3dca1"/>
<line x1="495.30" y1="93.00" x2="506.30" y2="93.00" stroke="#3eaa3a" stroke-width="0.8" opacity="0.8"/>
<path d="M500.80,65.40 L503.20,67.20 L500.80,69.00 L498.40,67.20 Z" fill="#3eaa3a"/>
<path d="M500.80,93.50 L503.20,95.30 L500.80,97.10 L498.40,95.30 Z" fill="#3eaa3a"/>
<circle cx="500.80" cy="67.20" r="1.9" fill="#3eaa3a"/>
<circle cx="500.80" cy="74.60" r="1.9" fill="#3eaa3a"/>
<circle cx="497.00" cy="91.00" r="1.9" fill="#3eaa3a"/>
<circle cx="500.80" cy="93.00" r="1.9" fill="#3eaa3a"/>
<circle cx="504.50" cy="93.00" r="1.9" fill="#3eaa3a"/>
<circle cx="497.00" cy="95.30" r="1.9" fill="#3eaa3a"/>
<circle cx="504.50" cy="95.30" r="1.9" fill="#3eaa3a"/>
<line x1="455.50" y1="40.09" x2="455.50" y2="107.00" stroke="#222" stroke-width="1.0"/>
<line x1="453.10" y1="106.50" x2="513.00" y2="106.50" stroke="#222" stroke-width="1.0"/>
<line x1="453.10" y1="106.70" x2="455.50" y2="106.70" stroke="#222" stroke-width="0.8"/>
<text x="449.70" y="108.70" font-size="6.2" text-anchor="end" fill="#3a3a3a" stroke="#3a3a3a" stroke-width="0.2">0</text>
<line x1="453.10" y1="85.33" x2="455.50" y2="85.33" stroke="#222" stroke-width="0.8"/>
<text x="449.70" y="87.33" font-size="6.2" text-anchor="end" fill="#3a3a3a" stroke="#3a3a3a" stroke-width="0.2">5</text>
<line x1="453.10" y1="63.96" x2="455.50" y2="63.96" stroke="#222" stroke-width="0.8"/>
<text x="449.70" y="65.96" font-size="6.2" text-anchor="end" fill="#3a3a3a" stroke="#3a3a3a" stroke-width="0.2">10</text>
<line x1="453.10" y1="42.59" x2="455.50" y2="42.59" stroke="#222" stroke-width="0.8"/>
<text x="449.70" y="44.59" font-size="6.2" text-anchor="end" fill="#3a3a3a" stroke="#3a3a3a" stroke-width="0.2">15</text>
<line x1="466.20" y1="106.50" x2="466.20" y2="109.30" stroke="#222" stroke-width="0.9"/>
<line x1="483.70" y1="106.50" x2="483.70" y2="109.30" stroke="#222" stroke-width="0.9"/>
<line x1="500.80" y1="106.50" x2="500.80" y2="109.30" stroke="#222" stroke-width="0.9"/>
<path d="M466.50,78.90 L466.50,41.50 L483.50,41.50 L483.50,44.20" fill="none" stroke="#2a2a2a" stroke-width="1"/>
<text x="474.95" y="40.60" font-size="6.2" text-anchor="middle" fill="#333" stroke="#333" stroke-width="0.2">****</text>
<path d="M483.50,29.70 L483.50,26.50 L500.50,26.50 L500.50,66.00" fill="none" stroke="#2a2a2a" stroke-width="1"/>
<text x="492.25" y="25.80" font-size="6.2" text-anchor="middle" fill="#333" stroke="#333" stroke-width="0.2">***</text>
<text x="418.90" y="24.00" font-size="12.2" text-anchor="start" fill="#000" font-weight="bold">F</text>
<text transform="translate(436.50,73.50) rotate(-90)" font-size="8.2" font-weight="bold" text-anchor="middle" fill="#2a2a2a" textLength="42.7" lengthAdjust="spacingAndGlyphs">MDP (cells/µL)</text>
<text x="466.20" y="118.10" font-size="6.4" text-anchor="middle" fill="#2a2a2a" stroke="#2a2a2a" stroke-width="0.2" textLength="16.20" lengthAdjust="spacingAndGlyphs">Young</text>
<text x="466.20" y="125.90" font-size="6.4" text-anchor="middle" fill="#2a2a2a" stroke="#2a2a2a" stroke-width="0.2" textLength="9.60" lengthAdjust="spacingAndGlyphs">WT</text>
<text x="483.70" y="118.10" font-size="6.4" text-anchor="middle" fill="#2a2a2a" stroke="#2a2a2a" stroke-width="0.2" textLength="9.80" lengthAdjust="spacingAndGlyphs">Old</text>
<text x="483.70" y="125.90" font-size="6.4" text-anchor="middle" fill="#2a2a2a" stroke="#2a2a2a" stroke-width="0.2" textLength="9.60" lengthAdjust="spacingAndGlyphs">WT</text>
<text x="500.80" y="118.10" font-size="6.4" text-anchor="middle" fill="#2a2a2a" stroke="#2a2a2a" stroke-width="0.2" textLength="9.80" lengthAdjust="spacingAndGlyphs">Old</text>
<text x="492.00" y="125.90" font-size="6.4" text-anchor="start" fill="#2a2a2a" stroke="#2a2a2a" stroke-width="0.2" textLength="17.60" lengthAdjust="spacingAndGlyphs">TNF<tspan font-size="4.4" dy="-2.3">-/-</tspan></text>
<line x1="240.20" y1="215.90" x2="240.20" y2="232.00" stroke="#c80f2d" stroke-width="0.9"/>
<rect x="234.70" y="221.00" width="11.00" height="9.10" fill="#f2a6a6"/>
<line x1="234.70" y1="226.00" x2="245.70" y2="226.00" stroke="#c80f2d" stroke-width="0.8" opacity="0.8"/>
<path d="M240.20,214.10 L242.60,215.90 L240.20,217.70 L237.80,215.90 Z" fill="#c80f2d"/>
<path d="M240.20,230.20 L242.60,232.00 L240.20,233.80 L237.80,232.00 Z" fill="#c80f2d"/>
<circle cx="236.50" cy="217.00" r="1.9" fill="#c80f2d"/>
<circle cx="243.50" cy="216.00" r="1.9" fill="#c80f2d"/>
<circle cx="240.20" cy="219.00" r="1.9" fill="#c80f2d"/>
<circle cx="236.00" cy="222.00" r="1.9" fill="#c80f2d"/>
<circle cx="244.00" cy="222.00" r="1.9" fill="#c80f2d"/>
<circle cx="240.20" cy="224.50" r="1.9" fill="#c80f2d"/>
<circle cx="236.50" cy="228.00" r="1.9" fill="#c80f2d"/>
<circle cx="243.50" cy="228.00" r="1.9" fill="#c80f2d"/>
<circle cx="240.20" cy="231.00" r="1.9" fill="#c80f2d"/>
<line x1="257.90" y1="180.30" x2="257.90" y2="213.30" stroke="#1d4f8a" stroke-width="0.9"/>
<rect x="252.40" y="191.50" width="11.00" height="15.20" fill="#98a5d3"/>
<line x1="252.40" y1="202.70" x2="263.40" y2="202.70" stroke="#1d4f8a" stroke-width="0.8" opacity="0.8"/>
<path d="M257.90,178.50 L260.30,180.30 L257.90,182.10 L255.50,180.30 Z" fill="#1d4f8a"/>
<path d="M257.90,211.50 L260.30,213.30 L257.90,215.10 L255.50,213.30 Z" fill="#1d4f8a"/>
<circle cx="257.90" cy="180.30" r="1.9" fill="#1d4f8a"/>
<circle cx="257.90" cy="186.50" r="1.9" fill="#1d4f8a"/>
<circle cx="257.90" cy="193.00" r="1.9" fill="#1d4f8a"/>
<circle cx="254.00" cy="203.00" r="1.9" fill="#1d4f8a"/>
<circle cx="261.50" cy="200.00" r="1.9" fill="#1d4f8a"/>
<circle cx="257.50" cy="205.00" r="1.9" fill="#1d4f8a"/>
<circle cx="254.00" cy="208.00" r="1.9" fill="#1d4f8a"/>
<circle cx="262.00" cy="208.00" r="1.9" fill="#1d4f8a"/>
<circle cx="257.90" cy="213.30" r="1.9" fill="#1d4f8a"/>
<line x1="274.70" y1="209.80" x2="274.70" y2="223.00" stroke="#3eaa3a" stroke-width="0.9"/>
<rect x="269.20" y="212.80" width="11.00" height="6.20" fill="#b3dca1"/>
<line x1="269.20" y1="215.50" x2="280.20" y2="215.50" stroke="#3eaa3a" stroke-width="0.8" opacity="0.8"/>
<path d="M274.70,208.00 L277.10,209.80 L274.70,211.60 L272.30,209.80 Z" fill="#3eaa3a"/>
<path d="M274.70,221.20 L277.10,223.00 L274.70,224.80 L272.30,223.00 Z" fill="#3eaa3a"/>
<circle cx="274.70" cy="209.80" r="1.9" fill="#3eaa3a"/>
<circle cx="271.00" cy="212.00" r="1.9" fill="#3eaa3a"/>
<circle cx="278.00" cy="212.00" r="1.9" fill="#3eaa3a"/>
<circle cx="274.70" cy="215.00" r="1.9" fill="#3eaa3a"/>
<circle cx="271.00" cy="218.00" r="1.9" fill="#3eaa3a"/>
<circle cx="278.00" cy="218.00" r="1.9" fill="#3eaa3a"/>
<circle cx="271.00" cy="222.00" r="1.9" fill="#3eaa3a"/>
<circle cx="274.70" cy="223.00" r="1.9" fill="#3eaa3a"/>
<line x1="228.50" y1="167.40" x2="228.50" y2="234.00" stroke="#222" stroke-width="1.0"/>
<line x1="226.10" y1="233.50" x2="286.40" y2="233.50" stroke="#222" stroke-width="1.0"/>
<line x1="226.10" y1="233.50" x2="228.50" y2="233.50" stroke="#222" stroke-width="0.8"/>
<text x="222.70" y="235.50" font-size="6.2" text-anchor="end" fill="#3a3a3a" stroke="#3a3a3a" stroke-width="0.2">0</text>
<line x1="226.10" y1="217.60" x2="228.50" y2="217.60" stroke="#222" stroke-width="0.8"/>
<text x="222.70" y="219.60" font-size="6.2" text-anchor="end" fill="#3a3a3a" stroke="#3a3a3a" stroke-width="0.2">50</text>
<line x1="226.10" y1="201.70" x2="228.50" y2="201.70" stroke="#222" stroke-width="0.8"/>
<text x="222.70" y="203.70" font-size="6.2" text-anchor="end" fill="#3a3a3a" stroke="#3a3a3a" stroke-width="0.2">100</text>
<line x1="226.10" y1="185.80" x2="228.50" y2="185.80" stroke="#222" stroke-width="0.8"/>
<text x="222.70" y="187.80" font-size="6.2" text-anchor="end" fill="#3a3a3a" stroke="#3a3a3a" stroke-width="0.2">150</text>
<line x1="226.10" y1="169.90" x2="228.50" y2="169.90" stroke="#222" stroke-width="0.8"/>
<text x="222.70" y="171.90" font-size="6.2" text-anchor="end" fill="#3a3a3a" stroke="#3a3a3a" stroke-width="0.2">200</text>
<line x1="240.20" y1="233.50" x2="240.20" y2="236.30" stroke="#222" stroke-width="0.9"/>
<line x1="257.90" y1="233.50" x2="257.90" y2="236.30" stroke="#222" stroke-width="0.9"/>
<line x1="274.70" y1="233.50" x2="274.70" y2="236.30" stroke="#222" stroke-width="0.9"/>
<path d="M240.50,213.30 L240.50,172.50 L256.50,172.50 L256.50,175.90" fill="none" stroke="#2a2a2a" stroke-width="1"/>
<text x="248.40" y="172.20" font-size="6.2" text-anchor="middle" fill="#333" stroke="#333" stroke-width="0.2">****</text>
<path d="M259.50,175.90 L259.50,172.50 L274.50,172.50 L274.50,206.30" fill="none" stroke="#2a2a2a" stroke-width="1"/>
<text x="266.95" y="172.20" font-size="6.2" text-anchor="middle" fill="#333" stroke="#333" stroke-width="0.2">**</text>
<text x="199.80" y="152.60" font-size="12.2" text-anchor="start" fill="#000" font-weight="bold">G</text>
<text transform="translate(205.80,200.20) rotate(-90)" font-size="8.2" font-weight="bold" text-anchor="middle" fill="#2a2a2a" textLength="41.3" lengthAdjust="spacingAndGlyphs">GMP (cells/µL)</text>
<text x="240.20" y="245.00" font-size="6.4" text-anchor="middle" fill="#2a2a2a" stroke="#2a2a2a" stroke-width="0.2" textLength="16.20" lengthAdjust="spacingAndGlyphs">Young</text>
<text x="240.20" y="252.80" font-size="6.4" text-anchor="middle" fill="#2a2a2a" stroke="#2a2a2a" stroke-width="0.2" textLength="9.60" lengthAdjust="spacingAndGlyphs">WT</text>
<text x="257.90" y="245.00" font-size="6.4" text-anchor="middle" fill="#2a2a2a" stroke="#2a2a2a" stroke-width="0.2" textLength="9.80" lengthAdjust="spacingAndGlyphs">Old</text>
<text x="257.90" y="252.80" font-size="6.4" text-anchor="middle" fill="#2a2a2a" stroke="#2a2a2a" stroke-width="0.2" textLength="9.60" lengthAdjust="spacingAndGlyphs">WT</text>
<text x="274.70" y="245.00" font-size="6.4" text-anchor="middle" fill="#2a2a2a" stroke="#2a2a2a" stroke-width="0.2" textLength="9.80" lengthAdjust="spacingAndGlyphs">Old</text>
<text x="265.90" y="252.80" font-size="6.4" text-anchor="start" fill="#2a2a2a" stroke="#2a2a2a" stroke-width="0.2" textLength="17.60" lengthAdjust="spacingAndGlyphs">TNF<tspan font-size="4.4" dy="-2.3">-/-</tspan></text>
<text x="195.20" y="245.00" font-size="6.4" text-anchor="start" fill="#2a2a2a" stroke="#2a2a2a" stroke-width="0.2" textLength="27.80" lengthAdjust="spacingAndGlyphs">Recipient:</text>
<line x1="350.60" y1="211.30" x2="350.60" y2="231.20" stroke="#c80f2d" stroke-width="0.9"/>
<rect x="345.10" y="216.80" width="11.00" height="12.20" fill="#f2a6a6"/>
<line x1="345.10" y1="224.00" x2="356.10" y2="224.00" stroke="#c80f2d" stroke-width="0.8" opacity="0.8"/>
<path d="M350.60,209.50 L353.00,211.30 L350.60,213.10 L348.20,211.30 Z" fill="#c80f2d"/>
<path d="M350.60,229.40 L353.00,231.20 L350.60,233.00 L348.20,231.20 Z" fill="#c80f2d"/>
<circle cx="347.00" cy="212.00" r="1.9" fill="#c80f2d"/>
<circle cx="354.00" cy="211.00" r="1.9" fill="#c80f2d"/>
<circle cx="350.60" cy="218.00" r="1.9" fill="#c80f2d"/>
<circle cx="347.00" cy="222.00" r="1.9" fill="#c80f2d"/>
<circle cx="354.00" cy="222.00" r="1.9" fill="#c80f2d"/>
<circle cx="350.60" cy="225.00" r="1.9" fill="#c80f2d"/>
<circle cx="347.00" cy="229.00" r="1.9" fill="#c80f2d"/>
<circle cx="354.00" cy="229.00" r="1.9" fill="#c80f2d"/>
<circle cx="350.60" cy="231.20" r="1.9" fill="#c80f2d"/>
<line x1="367.70" y1="178.60" x2="367.70" y2="210.00" stroke="#1d4f8a" stroke-width="0.9"/>
<rect x="362.20" y="188.90" width="11.00" height="14.90" fill="#98a5d3"/>
<line x1="362.20" y1="196.00" x2="373.20" y2="196.00" stroke="#1d4f8a" stroke-width="0.8" opacity="0.8"/>
<path d="M367.70,176.80 L370.10,178.60 L367.70,180.40 L365.30,178.60 Z" fill="#1d4f8a"/>
<path d="M367.70,208.20 L370.10,210.00 L367.70,211.80 L365.30,210.00 Z" fill="#1d4f8a"/>
<circle cx="367.70" cy="178.60" r="1.9" fill="#1d4f8a"/>
<circle cx="367.70" cy="184.00" r="1.9" fill="#1d4f8a"/>
<circle cx="363.00" cy="196.00" r="1.9" fill="#1d4f8a"/>
<circle cx="372.00" cy="196.00" r="1.9" fill="#1d4f8a"/>
<circle cx="367.70" cy="200.00" r="1.9" fill="#1d4f8a"/>
<circle cx="363.00" cy="204.00" r="1.9" fill="#1d4f8a"/>
<circle cx="372.00" cy="204.00" r="1.9" fill="#1d4f8a"/>
<circle cx="367.70" cy="206.00" r="1.9" fill="#1d4f8a"/>
<circle cx="363.50" cy="210.00" r="1.9" fill="#1d4f8a"/>
<circle cx="367.70" cy="210.00" r="1.9" fill="#1d4f8a"/>
<line x1="385.40" y1="200.80" x2="385.40" y2="226.70" stroke="#3eaa3a" stroke-width="0.9"/>
<rect x="379.90" y="204.90" width="11.00" height="20.60" fill="#b3dca1"/>
<line x1="379.90" y1="224.00" x2="390.90" y2="224.00" stroke="#3eaa3a" stroke-width="0.8" opacity="0.8"/>
<path d="M385.40,199.00 L387.80,200.80 L385.40,202.60 L383.00,200.80 Z" fill="#3eaa3a"/>
<path d="M385.40,224.90 L387.80,226.70 L385.40,228.50 L383.00,226.70 Z" fill="#3eaa3a"/>
<circle cx="385.40" cy="200.80" r="1.9" fill="#3eaa3a"/>
<circle cx="388.00" cy="204.00" r="1.9" fill="#3eaa3a"/>
<circle cx="382.00" cy="225.00" r="1.9" fill="#3eaa3a"/>
<circle cx="385.40" cy="226.00" r="1.9" fill="#3eaa3a"/>
<circle cx="389.00" cy="226.00" r="1.9" fill="#3eaa3a"/>
<circle cx="383.00" cy="226.70" r="1.9" fill="#3eaa3a"/>
<line x1="339.50" y1="165.60" x2="339.50" y2="234.00" stroke="#222" stroke-width="1.0"/>
<line x1="337.10" y1="233.50" x2="397.30" y2="233.50" stroke="#222" stroke-width="1.0"/>
<line x1="337.10" y1="233.50" x2="339.50" y2="233.50" stroke="#222" stroke-width="0.8"/>
<text x="333.70" y="235.50" font-size="6.2" text-anchor="end" fill="#3a3a3a" stroke="#3a3a3a" stroke-width="0.2">0</text>
<line x1="337.10" y1="211.70" x2="339.50" y2="211.70" stroke="#222" stroke-width="0.8"/>
<text x="333.70" y="213.70" font-size="6.2" text-anchor="end" fill="#3a3a3a" stroke="#3a3a3a" stroke-width="0.2">10</text>
<line x1="337.10" y1="189.90" x2="339.50" y2="189.90" stroke="#222" stroke-width="0.8"/>
<text x="333.70" y="191.90" font-size="6.2" text-anchor="end" fill="#3a3a3a" stroke="#3a3a3a" stroke-width="0.2">20</text>
<line x1="337.10" y1="168.10" x2="339.50" y2="168.10" stroke="#222" stroke-width="0.8"/>
<text x="333.70" y="170.10" font-size="6.2" text-anchor="end" fill="#3a3a3a" stroke="#3a3a3a" stroke-width="0.2">30</text>
<line x1="350.60" y1="233.50" x2="350.60" y2="236.30" stroke="#222" stroke-width="0.9"/>
<line x1="367.70" y1="233.50" x2="367.70" y2="236.30" stroke="#222" stroke-width="0.9"/>
<line x1="385.40" y1="233.50" x2="385.40" y2="236.30" stroke="#222" stroke-width="0.9"/>
<path d="M350.50,210.00 L350.50,170.50 L367.50,170.50 L367.50,174.00" fill="none" stroke="#2a2a2a" stroke-width="1"/>
<text x="359.15" y="169.70" font-size="6.2" text-anchor="middle" fill="#333" stroke="#333" stroke-width="0.2">****</text>
<path d="M367.50,158.70 L367.50,155.50 L385.50,155.50 L385.50,195.80" fill="none" stroke="#2a2a2a" stroke-width="1"/>
<text x="376.55" y="155.30" font-size="6.2" text-anchor="middle" fill="#333" stroke="#333" stroke-width="0.2">***</text>
<text x="303.20" y="152.60" font-size="12.2" text-anchor="start" fill="#000" font-weight="bold">H</text>
<text transform="translate(320.80,200.20) rotate(-90)" font-size="8.2" font-weight="bold" text-anchor="middle" fill="#2a2a2a" textLength="42.5" lengthAdjust="spacingAndGlyphs">cMoP (cells/µL)</text>
<text x="350.60" y="245.00" font-size="6.4" text-anchor="middle" fill="#2a2a2a" stroke="#2a2a2a" stroke-width="0.2" textLength="16.20" lengthAdjust="spacingAndGlyphs">Young</text>
<text x="350.60" y="252.80" font-size="6.4" text-anchor="middle" fill="#2a2a2a" stroke="#2a2a2a" stroke-width="0.2" textLength="9.60" lengthAdjust="spacingAndGlyphs">WT</text>
<text x="367.70" y="245.00" font-size="6.4" text-anchor="middle" fill="#2a2a2a" stroke="#2a2a2a" stroke-width="0.2" textLength="9.80" lengthAdjust="spacingAndGlyphs">Old</text>
<text x="367.70" y="252.80" font-size="6.4" text-anchor="middle" fill="#2a2a2a" stroke="#2a2a2a" stroke-width="0.2" textLength="9.60" lengthAdjust="spacingAndGlyphs">WT</text>
<text x="385.40" y="245.00" font-size="6.4" text-anchor="middle" fill="#2a2a2a" stroke="#2a2a2a" stroke-width="0.2" textLength="9.80" lengthAdjust="spacingAndGlyphs">Old</text>
<text x="376.60" y="252.80" font-size="6.4" text-anchor="start" fill="#2a2a2a" stroke="#2a2a2a" stroke-width="0.2" textLength="17.60" lengthAdjust="spacingAndGlyphs">TNF<tspan font-size="4.4" dy="-2.3">-/-</tspan></text>
<line x1="466.60" y1="202.60" x2="466.60" y2="228.60" stroke="#c80f2d" stroke-width="0.9"/>
<rect x="461.10" y="212.40" width="11.00" height="15.10" fill="#f2a6a6"/>
<line x1="461.10" y1="220.00" x2="472.10" y2="220.00" stroke="#c80f2d" stroke-width="0.8" opacity="0.8"/>
<path d="M466.60,200.80 L469.00,202.60 L466.60,204.40 L464.20,202.60 Z" fill="#c80f2d"/>
<path d="M466.60,226.80 L469.00,228.60 L466.60,230.40 L464.20,228.60 Z" fill="#c80f2d"/>
<circle cx="466.60" cy="202.60" r="1.9" fill="#c80f2d"/>
<circle cx="463.00" cy="212.00" r="1.9" fill="#c80f2d"/>
<circle cx="470.00" cy="212.00" r="1.9" fill="#c80f2d"/>
<circle cx="466.60" cy="218.00" r="1.9" fill="#c80f2d"/>
<circle cx="463.00" cy="223.00" r="1.9" fill="#c80f2d"/>
<circle cx="470.00" cy="223.00" r="1.9" fill="#c80f2d"/>
<circle cx="466.60" cy="226.00" r="1.9" fill="#c80f2d"/>
<circle cx="463.00" cy="228.00" r="1.9" fill="#c80f2d"/>
<circle cx="470.00" cy="228.00" r="1.9" fill="#c80f2d"/>
<line x1="483.70" y1="182.00" x2="483.70" y2="215.20" stroke="#1d4f8a" stroke-width="0.9"/>
<rect x="478.20" y="190.70" width="11.00" height="8.70" fill="#98a5d3"/>
<line x1="478.20" y1="195.00" x2="489.20" y2="195.00" stroke="#1d4f8a" stroke-width="0.8" opacity="0.8"/>
<path d="M483.70,180.20 L486.10,182.00 L483.70,183.80 L481.30,182.00 Z" fill="#1d4f8a"/>
<path d="M483.70,213.40 L486.10,215.20 L483.70,217.00 L481.30,215.20 Z" fill="#1d4f8a"/>
<circle cx="483.70" cy="182.00" r="1.9" fill="#1d4f8a"/>
<circle cx="483.70" cy="189.00" r="1.9" fill="#1d4f8a"/>
<circle cx="479.00" cy="193.00" r="1.9" fill="#1d4f8a"/>
<circle cx="488.00" cy="193.00" r="1.9" fill="#1d4f8a"/>
<circle cx="479.00" cy="198.00" r="1.9" fill="#1d4f8a"/>
<circle cx="488.00" cy="198.00" r="1.9" fill="#1d4f8a"/>
<circle cx="483.70" cy="201.00" r="1.9" fill="#1d4f8a"/>
<circle cx="488.00" cy="205.00" r="1.9" fill="#1d4f8a"/>
<circle cx="483.70" cy="215.20" r="1.9" fill="#1d4f8a"/>
<line x1="500.50" y1="197.20" x2="500.50" y2="229.70" stroke="#3eaa3a" stroke-width="0.9"/>
<rect x="495.00" y="203.00" width="11.00" height="23.40" fill="#b3dca1"/>
<line x1="495.00" y1="225.00" x2="506.00" y2="225.00" stroke="#3eaa3a" stroke-width="0.8" opacity="0.8"/>
<path d="M500.50,195.40 L502.90,197.20 L500.50,199.00 L498.10,197.20 Z" fill="#3eaa3a"/>
<path d="M500.50,227.90 L502.90,229.70 L500.50,231.50 L498.10,229.70 Z" fill="#3eaa3a"/>
<circle cx="500.50" cy="197.20" r="1.9" fill="#3eaa3a"/>
<circle cx="500.50" cy="203.00" r="1.9" fill="#3eaa3a"/>
<circle cx="497.00" cy="225.00" r="1.9" fill="#3eaa3a"/>
<circle cx="500.50" cy="226.00" r="1.9" fill="#3eaa3a"/>
<circle cx="504.00" cy="226.00" r="1.9" fill="#3eaa3a"/>
<circle cx="497.00" cy="229.70" r="1.9" fill="#3eaa3a"/>
<circle cx="504.00" cy="228.00" r="1.9" fill="#3eaa3a"/>
<line x1="455.50" y1="167.40" x2="455.50" y2="234.00" stroke="#222" stroke-width="1.0"/>
<line x1="453.10" y1="233.50" x2="513.00" y2="233.50" stroke="#222" stroke-width="1.0"/>
<line x1="453.10" y1="233.50" x2="455.50" y2="233.50" stroke="#222" stroke-width="0.8"/>
<text x="449.70" y="235.50" font-size="6.2" text-anchor="end" fill="#3a3a3a" stroke="#3a3a3a" stroke-width="0.2">0</text>
<line x1="453.10" y1="220.78" x2="455.50" y2="220.78" stroke="#222" stroke-width="0.8"/>
<text x="449.70" y="222.78" font-size="6.2" text-anchor="end" fill="#3a3a3a" stroke="#3a3a3a" stroke-width="0.2">50</text>
<line x1="453.10" y1="208.06" x2="455.50" y2="208.06" stroke="#222" stroke-width="0.8"/>
<text x="449.70" y="210.06" font-size="6.2" text-anchor="end" fill="#3a3a3a" stroke="#3a3a3a" stroke-width="0.2">100</text>
<line x1="453.10" y1="195.34" x2="455.50" y2="195.34" stroke="#222" stroke-width="0.8"/>
<text x="449.70" y="197.34" font-size="6.2" text-anchor="end" fill="#3a3a3a" stroke="#3a3a3a" stroke-width="0.2">150</text>
<line x1="453.10" y1="182.62" x2="455.50" y2="182.62" stroke="#222" stroke-width="0.8"/>
<text x="449.70" y="184.62" font-size="6.2" text-anchor="end" fill="#3a3a3a" stroke="#3a3a3a" stroke-width="0.2">200</text>
<line x1="453.10" y1="169.90" x2="455.50" y2="169.90" stroke="#222" stroke-width="0.8"/>
<text x="449.70" y="171.90" font-size="6.2" text-anchor="end" fill="#3a3a3a" stroke="#3a3a3a" stroke-width="0.2">250</text>
<line x1="466.60" y1="233.50" x2="466.60" y2="236.30" stroke="#222" stroke-width="0.9"/>
<line x1="483.70" y1="233.50" x2="483.70" y2="236.30" stroke="#222" stroke-width="0.9"/>
<line x1="500.50" y1="233.50" x2="500.50" y2="236.30" stroke="#222" stroke-width="0.9"/>
<path d="M466.50,198.30 L466.50,174.50 L482.50,174.50 L482.50,177.70" fill="none" stroke="#2a2a2a" stroke-width="1"/>
<text x="474.60" y="174.10" font-size="6.2" text-anchor="middle" fill="#333" stroke="#333" stroke-width="0.2">***</text>
<path d="M484.50,177.70 L484.50,174.50 L500.50,174.50 L500.50,195.70" fill="none" stroke="#2a2a2a" stroke-width="1"/>
<text x="492.65" y="174.10" font-size="6.2" text-anchor="middle" fill="#333" stroke="#333" stroke-width="0.2">**</text>
<text x="418.90" y="152.60" font-size="12.2" text-anchor="start" fill="#000" font-weight="bold">I</text>
<text transform="translate(432.80,200.00) rotate(-90)" font-size="8.2" font-weight="bold" text-anchor="middle" fill="#2a2a2a" textLength="53.6" lengthAdjust="spacingAndGlyphs">Monocyte (cells/µL)</text>
<text x="466.60" y="245.00" font-size="6.4" text-anchor="middle" fill="#2a2a2a" stroke="#2a2a2a" stroke-width="0.2" textLength="16.20" lengthAdjust="spacingAndGlyphs">Young</text>
<text x="466.60" y="252.80" font-size="6.4" text-anchor="middle" fill="#2a2a2a" stroke="#2a2a2a" stroke-width="0.2" textLength="9.60" lengthAdjust="spacingAndGlyphs">WT</text>
<text x="483.70" y="245.00" font-size="6.4" text-anchor="middle" fill="#2a2a2a" stroke="#2a2a2a" stroke-width="0.2" textLength="9.80" lengthAdjust="spacingAndGlyphs">Old</text>
<text x="483.70" y="252.80" font-size="6.4" text-anchor="middle" fill="#2a2a2a" stroke="#2a2a2a" stroke-width="0.2" textLength="9.60" lengthAdjust="spacingAndGlyphs">WT</text>
<text x="500.50" y="245.00" font-size="6.4" text-anchor="middle" fill="#2a2a2a" stroke="#2a2a2a" stroke-width="0.2" textLength="9.80" lengthAdjust="spacingAndGlyphs">Old</text>
<text x="491.70" y="252.80" font-size="6.4" text-anchor="start" fill="#2a2a2a" stroke="#2a2a2a" stroke-width="0.2" textLength="17.60" lengthAdjust="spacingAndGlyphs">TNF<tspan font-size="4.4" dy="-2.3">-/-</tspan></text>
<line x1="240.20" y1="326.70" x2="240.20" y2="354.10" stroke="#c80f2d" stroke-width="0.9"/>
<rect x="234.70" y="337.40" width="11.00" height="12.60" fill="#f2a6a6"/>
<line x1="234.70" y1="342.00" x2="245.70" y2="342.00" stroke="#c80f2d" stroke-width="0.8" opacity="0.8"/>
<path d="M240.20,324.90 L242.60,326.70 L240.20,328.50 L237.80,326.70 Z" fill="#c80f2d"/>
<path d="M240.20,352.30 L242.60,354.10 L240.20,355.90 L237.80,354.10 Z" fill="#c80f2d"/>
<circle cx="240.20" cy="326.70" r="1.9" fill="#c80f2d"/>
<circle cx="236.50" cy="337.00" r="1.9" fill="#c80f2d"/>
<circle cx="243.50" cy="337.00" r="1.9" fill="#c80f2d"/>
<circle cx="240.20" cy="342.00" r="1.9" fill="#c80f2d"/>
<circle cx="236.00" cy="350.00" r="1.9" fill="#c80f2d"/>
<circle cx="244.00" cy="350.00" r="1.9" fill="#c80f2d"/>
<circle cx="240.20" cy="352.00" r="1.9" fill="#c80f2d"/>
<circle cx="236.50" cy="352.50" r="1.9" fill="#c80f2d"/>
<circle cx="240.20" cy="354.10" r="1.9" fill="#c80f2d"/>
<line x1="257.50" y1="306.30" x2="257.50" y2="345.60" stroke="#1d4f8a" stroke-width="0.9"/>
<rect x="252.00" y="314.50" width="11.00" height="12.20" fill="#98a5d3"/>
<line x1="252.00" y1="318.00" x2="263.00" y2="318.00" stroke="#1d4f8a" stroke-width="0.8" opacity="0.8"/>
<path d="M257.50,304.50 L259.90,306.30 L257.50,308.10 L255.10,306.30 Z" fill="#1d4f8a"/>
<path d="M257.50,343.80 L259.90,345.60 L257.50,347.40 L255.10,345.60 Z" fill="#1d4f8a"/>
<circle cx="257.50" cy="306.30" r="1.9" fill="#1d4f8a"/>
<circle cx="253.00" cy="315.00" r="1.9" fill="#1d4f8a"/>
<circle cx="262.00" cy="315.00" r="1.9" fill="#1d4f8a"/>
<circle cx="257.50" cy="318.00" r="1.9" fill="#1d4f8a"/>
<circle cx="253.00" cy="320.00" r="1.9" fill="#1d4f8a"/>
<circle cx="262.00" cy="320.00" r="1.9" fill="#1d4f8a"/>
<circle cx="257.50" cy="326.00" r="1.9" fill="#1d4f8a"/>
<circle cx="253.00" cy="326.70" r="1.9" fill="#1d4f8a"/>
<circle cx="262.00" cy="326.70" r="1.9" fill="#1d4f8a"/>
<circle cx="257.50" cy="345.60" r="1.9" fill="#1d4f8a"/>
<line x1="274.70" y1="321.60" x2="274.70" y2="355.10" stroke="#3eaa3a" stroke-width="0.9"/>
<rect x="269.20" y="331.70" width="11.00" height="23.40" fill="#b3dca1"/>
<line x1="269.20" y1="350.00" x2="280.20" y2="350.00" stroke="#3eaa3a" stroke-width="0.8" opacity="0.8"/>
<path d="M274.70,319.80 L277.10,321.60 L274.70,323.40 L272.30,321.60 Z" fill="#3eaa3a"/>
<path d="M274.70,353.30 L277.10,355.10 L274.70,356.90 L272.30,355.10 Z" fill="#3eaa3a"/>
<circle cx="274.70" cy="321.60" r="1.9" fill="#3eaa3a"/>
<circle cx="274.70" cy="331.70" r="1.9" fill="#3eaa3a"/>
<circle cx="271.00" cy="349.00" r="1.9" fill="#3eaa3a"/>
<circle cx="278.00" cy="349.00" r="1.9" fill="#3eaa3a"/>
<circle cx="274.70" cy="352.00" r="1.9" fill="#3eaa3a"/>
<circle cx="270.00" cy="353.00" r="1.9" fill="#3eaa3a"/>
<circle cx="279.00" cy="352.00" r="1.9" fill="#3eaa3a"/>
<circle cx="271.00" cy="355.10" r="1.9" fill="#3eaa3a"/>
<line x1="228.50" y1="292.30" x2="228.50" y2="359.00" stroke="#222" stroke-width="1.0"/>
<line x1="226.10" y1="358.50" x2="286.40" y2="358.50" stroke="#222" stroke-width="1.0"/>
<line x1="226.10" y1="358.40" x2="228.50" y2="358.40" stroke="#222" stroke-width="0.8"/>
<text x="222.70" y="360.40" font-size="6.2" text-anchor="end" fill="#3a3a3a" stroke="#3a3a3a" stroke-width="0.2">0</text>
<line x1="226.10" y1="342.50" x2="228.50" y2="342.50" stroke="#222" stroke-width="0.8"/>
<text x="222.70" y="344.50" font-size="6.2" text-anchor="end" fill="#3a3a3a" stroke="#3a3a3a" stroke-width="0.2">50</text>
<line x1="226.10" y1="326.60" x2="228.50" y2="326.60" stroke="#222" stroke-width="0.8"/>
<text x="222.70" y="328.60" font-size="6.2" text-anchor="end" fill="#3a3a3a" stroke="#3a3a3a" stroke-width="0.2">100</text>
<line x1="226.10" y1="310.70" x2="228.50" y2="310.70" stroke="#222" stroke-width="0.8"/>
<text x="222.70" y="312.70" font-size="6.2" text-anchor="end" fill="#3a3a3a" stroke="#3a3a3a" stroke-width="0.2">150</text>
<line x1="226.10" y1="294.80" x2="228.50" y2="294.80" stroke="#222" stroke-width="0.8"/>
<text x="222.70" y="296.80" font-size="6.2" text-anchor="end" fill="#3a3a3a" stroke="#3a3a3a" stroke-width="0.2">200</text>
<line x1="240.20" y1="358.50" x2="240.20" y2="361.30" stroke="#222" stroke-width="0.9"/>
<line x1="257.50" y1="358.50" x2="257.50" y2="361.30" stroke="#222" stroke-width="0.9"/>
<line x1="274.70" y1="358.50" x2="274.70" y2="361.30" stroke="#222" stroke-width="0.9"/>
<path d="M240.50,325.20 L240.50,298.50 L256.50,298.50 L256.50,302.30" fill="none" stroke="#2a2a2a" stroke-width="1"/>
<text x="248.20" y="297.80" font-size="6.2" text-anchor="middle" fill="#333" stroke="#333" stroke-width="0.2">**</text>
<path d="M258.50,302.30 L258.50,298.50 L274.50,298.50 L274.50,320.00" fill="none" stroke="#2a2a2a" stroke-width="1"/>
<text x="266.75" y="297.80" font-size="6.2" text-anchor="middle" fill="#333" stroke="#333" stroke-width="0.2">**</text>
<text x="199.80" y="278.80" font-size="12.2" text-anchor="start" fill="#000" font-weight="bold">J</text>
<text transform="translate(206.00,325.00) rotate(-90)" font-size="8.2" font-weight="bold" text-anchor="middle" fill="#2a2a2a" textLength="49.5" lengthAdjust="spacingAndGlyphs">Ly6C<tspan font-size="4.5" dy="-2.5">high</tspan><tspan dy="2.5"> (cells/µL)</tspan></text>
<text x="240.20" y="370.00" font-size="6.4" text-anchor="middle" fill="#2a2a2a" stroke="#2a2a2a" stroke-width="0.2" textLength="16.20" lengthAdjust="spacingAndGlyphs">Young</text>
<text x="240.20" y="377.80" font-size="6.4" text-anchor="middle" fill="#2a2a2a" stroke="#2a2a2a" stroke-width="0.2" textLength="9.60" lengthAdjust="spacingAndGlyphs">WT</text>
<text x="257.50" y="370.00" font-size="6.4" text-anchor="middle" fill="#2a2a2a" stroke="#2a2a2a" stroke-width="0.2" textLength="9.80" lengthAdjust="spacingAndGlyphs">Old</text>
<text x="257.50" y="377.80" font-size="6.4" text-anchor="middle" fill="#2a2a2a" stroke="#2a2a2a" stroke-width="0.2" textLength="9.60" lengthAdjust="spacingAndGlyphs">WT</text>
<text x="274.70" y="370.00" font-size="6.4" text-anchor="middle" fill="#2a2a2a" stroke="#2a2a2a" stroke-width="0.2" textLength="9.80" lengthAdjust="spacingAndGlyphs">Old</text>
<text x="265.90" y="377.80" font-size="6.4" text-anchor="start" fill="#2a2a2a" stroke="#2a2a2a" stroke-width="0.2" textLength="17.60" lengthAdjust="spacingAndGlyphs">TNF<tspan font-size="4.4" dy="-2.3">-/-</tspan></text>
<text x="195.20" y="370.00" font-size="6.4" text-anchor="start" fill="#2a2a2a" stroke="#2a2a2a" stroke-width="0.2" textLength="27.80" lengthAdjust="spacingAndGlyphs">Recipient:</text>
<line x1="350.50" y1="305.70" x2="350.50" y2="326.80" stroke="#c80f2d" stroke-width="0.9"/>
<rect x="345.00" y="313.50" width="11.00" height="11.50" fill="#f2a6a6"/>
<line x1="345.00" y1="318.00" x2="356.00" y2="318.00" stroke="#c80f2d" stroke-width="0.8" opacity="0.8"/>
<path d="M350.50,303.90 L352.90,305.70 L350.50,307.50 L348.10,305.70 Z" fill="#c80f2d"/>
<path d="M350.50,325.00 L352.90,326.80 L350.50,328.60 L348.10,326.80 Z" fill="#c80f2d"/>
<circle cx="350.50" cy="305.70" r="1.9" fill="#c80f2d"/>
<circle cx="347.00" cy="313.00" r="1.9" fill="#c80f2d"/>
<circle cx="354.00" cy="313.00" r="1.9" fill="#c80f2d"/>
<circle cx="347.00" cy="318.00" r="1.9" fill="#c80f2d"/>
<circle cx="354.00" cy="318.00" r="1.9" fill="#c80f2d"/>
<circle cx="350.50" cy="320.00" r="1.9" fill="#c80f2d"/>
<circle cx="354.00" cy="323.00" r="1.9" fill="#c80f2d"/>
<circle cx="347.00" cy="326.80" r="1.9" fill="#c80f2d"/>
<circle cx="351.00" cy="325.00" r="1.9" fill="#c80f2d"/>
<line x1="367.90" y1="323.10" x2="367.90" y2="335.70" stroke="#1d4f8a" stroke-width="0.9"/>
<rect x="362.40" y="327.20" width="11.00" height="3.20" fill="#98a5d3"/>
<line x1="362.40" y1="329.00" x2="373.40" y2="329.00" stroke="#1d4f8a" stroke-width="0.8" opacity="0.8"/>
<path d="M367.90,321.30 L370.30,323.10 L367.90,324.90 L365.50,323.10 Z" fill="#1d4f8a"/>
<path d="M367.90,333.90 L370.30,335.70 L367.90,337.50 L365.50,335.70 Z" fill="#1d4f8a"/>
<circle cx="367.90" cy="323.10" r="1.9" fill="#1d4f8a"/>
<circle cx="364.00" cy="330.00" r="1.9" fill="#1d4f8a"/>
<circle cx="371.00" cy="330.00" r="1.9" fill="#1d4f8a"/>
<circle cx="367.90" cy="331.00" r="1.9" fill="#1d4f8a"/>
<circle cx="364.00" cy="332.50" r="1.9" fill="#1d4f8a"/>
<circle cx="371.00" cy="332.50" r="1.9" fill="#1d4f8a"/>
<circle cx="367.90" cy="335.70" r="1.9" fill="#1d4f8a"/>
<line x1="385.60" y1="320.70" x2="385.60" y2="355.70" stroke="#3eaa3a" stroke-width="0.9"/>
<rect x="380.10" y="325.00" width="11.00" height="15.50" fill="#b3dca1"/>
<line x1="380.10" y1="330.00" x2="391.10" y2="330.00" stroke="#3eaa3a" stroke-width="0.8" opacity="0.8"/>
<path d="M385.60,318.90 L388.00,320.70 L385.60,322.50 L383.20,320.70 Z" fill="#3eaa3a"/>
<path d="M385.60,353.90 L388.00,355.70 L385.60,357.50 L383.20,355.70 Z" fill="#3eaa3a"/>
<circle cx="382.00" cy="320.70" r="1.9" fill="#3eaa3a"/>
<circle cx="389.00" cy="320.70" r="1.9" fill="#3eaa3a"/>
<circle cx="382.00" cy="326.00" r="1.9" fill="#3eaa3a"/>
<circle cx="385.60" cy="326.00" r="1.9" fill="#3eaa3a"/>
<circle cx="389.00" cy="326.00" r="1.9" fill="#3eaa3a"/>
<circle cx="385.60" cy="340.50" r="1.9" fill="#3eaa3a"/>
<circle cx="385.60" cy="355.70" r="1.9" fill="#3eaa3a"/>
<line x1="340.50" y1="292.05" x2="340.50" y2="359.00" stroke="#222" stroke-width="1.0"/>
<line x1="338.10" y1="358.50" x2="397.30" y2="358.50" stroke="#222" stroke-width="1.0"/>
<line x1="338.10" y1="358.30" x2="340.50" y2="358.30" stroke="#222" stroke-width="0.8"/>
<text x="334.70" y="360.30" font-size="6.2" text-anchor="end" fill="#3a3a3a" stroke="#3a3a3a" stroke-width="0.2">0</text>
<line x1="338.10" y1="345.55" x2="340.50" y2="345.55" stroke="#222" stroke-width="0.8"/>
<text x="334.70" y="347.55" font-size="6.2" text-anchor="end" fill="#3a3a3a" stroke="#3a3a3a" stroke-width="0.2">2000</text>
<line x1="338.10" y1="332.80" x2="340.50" y2="332.80" stroke="#222" stroke-width="0.8"/>
<text x="334.70" y="334.80" font-size="6.2" text-anchor="end" fill="#3a3a3a" stroke="#3a3a3a" stroke-width="0.2">4000</text>
<line x1="338.10" y1="320.05" x2="340.50" y2="320.05" stroke="#222" stroke-width="0.8"/>
<text x="334.70" y="322.05" font-size="6.2" text-anchor="end" fill="#3a3a3a" stroke="#3a3a3a" stroke-width="0.2">6000</text>
<line x1="338.10" y1="307.30" x2="340.50" y2="307.30" stroke="#222" stroke-width="0.8"/>
<text x="334.70" y="309.30" font-size="6.2" text-anchor="end" fill="#3a3a3a" stroke="#3a3a3a" stroke-width="0.2">8000</text>
<line x1="338.10" y1="294.55" x2="340.50" y2="294.55" stroke="#222" stroke-width="0.8"/>
<text x="334.70" y="296.55" font-size="6.2" text-anchor="end" fill="#3a3a3a" stroke="#3a3a3a" stroke-width="0.2">10000</text>
<line x1="350.50" y1="358.50" x2="350.50" y2="361.30" stroke="#222" stroke-width="0.9"/>
<line x1="367.90" y1="358.50" x2="367.90" y2="361.30" stroke="#222" stroke-width="0.9"/>
<line x1="385.60" y1="358.50" x2="385.60" y2="361.30" stroke="#222" stroke-width="0.9"/>
<path d="M350.50,303.80 L350.50,296.50 L367.50,296.50 L367.50,322.00" fill="none" stroke="#2a2a2a" stroke-width="1"/>
<text x="359.20" y="296.20" font-size="6.2" text-anchor="middle" fill="#333" stroke="#333" stroke-width="0.2">**</text>
<path d="M350.50,293.00 L350.50,281.50 L385.50,281.50 L385.50,318.30" fill="none" stroke="#2a2a2a" stroke-width="1"/>
<text x="368.05" y="281.20" font-size="6.2" text-anchor="middle" fill="#333" stroke="#333" stroke-width="0.2">**</text>
<text x="303.20" y="278.80" font-size="12.2" text-anchor="start" fill="#000" font-weight="bold">K</text>
<text transform="translate(309.10,324.00) rotate(-90)" font-size="8.2" font-weight="bold" text-anchor="middle" fill="#2a2a2a" textLength="60.1" lengthAdjust="spacingAndGlyphs">Monocyte CX3CR1 MFI</text>
<text x="350.50" y="370.00" font-size="6.4" text-anchor="middle" fill="#2a2a2a" stroke="#2a2a2a" stroke-width="0.2" textLength="16.20" lengthAdjust="spacingAndGlyphs">Young</text>
<text x="350.50" y="377.80" font-size="6.4" text-anchor="middle" fill="#2a2a2a" stroke="#2a2a2a" stroke-width="0.2" textLength="9.60" lengthAdjust="spacingAndGlyphs">WT</text>
<text x="367.90" y="370.00" font-size="6.4" text-anchor="middle" fill="#2a2a2a" stroke="#2a2a2a" stroke-width="0.2" textLength="9.80" lengthAdjust="spacingAndGlyphs">Old</text>
<text x="367.90" y="377.80" font-size="6.4" text-anchor="middle" fill="#2a2a2a" stroke="#2a2a2a" stroke-width="0.2" textLength="9.60" lengthAdjust="spacingAndGlyphs">WT</text>
<text x="385.60" y="370.00" font-size="6.4" text-anchor="middle" fill="#2a2a2a" stroke="#2a2a2a" stroke-width="0.2" textLength="9.80" lengthAdjust="spacingAndGlyphs">Old</text>
<text x="376.80" y="377.80" font-size="6.4" text-anchor="start" fill="#2a2a2a" stroke="#2a2a2a" stroke-width="0.2" textLength="17.60" lengthAdjust="spacingAndGlyphs">TNF<tspan font-size="4.4" dy="-2.3">-/-</tspan></text>
<line x1="464.70" y1="330.20" x2="464.70" y2="351.40" stroke="#c80f2d" stroke-width="0.9"/>
<rect x="459.20" y="336.30" width="11.00" height="13.00" fill="#f2a6a6"/>
<line x1="459.20" y1="346.00" x2="470.20" y2="346.00" stroke="#c80f2d" stroke-width="0.8" opacity="0.8"/>
<path d="M464.70,328.40 L467.10,330.20 L464.70,332.00 L462.30,330.20 Z" fill="#c80f2d"/>
<path d="M464.70,349.60 L467.10,351.40 L464.70,353.20 L462.30,351.40 Z" fill="#c80f2d"/>
<circle cx="463.00" cy="333.00" r="1.9" fill="#c80f2d"/>
<circle cx="467.00" cy="331.00" r="1.9" fill="#c80f2d"/>
<circle cx="464.70" cy="340.00" r="1.9" fill="#c80f2d"/>
<circle cx="461.00" cy="346.00" r="1.9" fill="#c80f2d"/>
<circle cx="468.00" cy="346.00" r="1.9" fill="#c80f2d"/>
<circle cx="464.70" cy="348.00" r="1.9" fill="#c80f2d"/>
<circle cx="461.00" cy="352.00" r="1.9" fill="#c80f2d"/>
<circle cx="468.00" cy="350.00" r="1.9" fill="#c80f2d"/>
<line x1="484.00" y1="301.60" x2="484.00" y2="343.20" stroke="#1d4f8a" stroke-width="0.9"/>
<rect x="478.50" y="309.90" width="11.00" height="26.80" fill="#98a5d3"/>
<line x1="478.50" y1="330.90" x2="489.50" y2="330.90" stroke="#1d4f8a" stroke-width="0.8" opacity="0.8"/>
<path d="M484.00,299.80 L486.40,301.60 L484.00,303.40 L481.60,301.60 Z" fill="#1d4f8a"/>
<path d="M484.00,341.40 L486.40,343.20 L484.00,345.00 L481.60,343.20 Z" fill="#1d4f8a"/>
<circle cx="484.00" cy="301.60" r="1.9" fill="#1d4f8a"/>
<circle cx="484.00" cy="308.00" r="1.9" fill="#1d4f8a"/>
<circle cx="484.00" cy="315.00" r="1.9" fill="#1d4f8a"/>
<circle cx="480.00" cy="330.00" r="1.9" fill="#1d4f8a"/>
<circle cx="488.00" cy="333.00" r="1.9" fill="#1d4f8a"/>
<circle cx="480.00" cy="338.00" r="1.9" fill="#1d4f8a"/>
<circle cx="488.00" cy="338.00" r="1.9" fill="#1d4f8a"/>
<circle cx="484.00" cy="343.20" r="1.9" fill="#1d4f8a"/>
<line x1="502.40" y1="324.40" x2="502.40" y2="342.80" stroke="#3eaa3a" stroke-width="0.9"/>
<rect x="496.90" y="325.50" width="11.00" height="17.30" fill="#b3dca1"/>
<line x1="496.90" y1="331.30" x2="507.90" y2="331.30" stroke="#3eaa3a" stroke-width="0.8" opacity="0.8"/>
<path d="M502.40,322.60 L504.80,324.40 L502.40,326.20 L500.00,324.40 Z" fill="#3eaa3a"/>
<path d="M502.40,341.00 L504.80,342.80 L502.40,344.60 L500.00,342.80 Z" fill="#3eaa3a"/>
<circle cx="499.00" cy="325.00" r="1.9" fill="#3eaa3a"/>
<circle cx="506.00" cy="325.00" r="1.9" fill="#3eaa3a"/>
<circle cx="499.00" cy="333.00" r="1.9" fill="#3eaa3a"/>
<circle cx="506.00" cy="333.00" r="1.9" fill="#3eaa3a"/>
<circle cx="502.40" cy="331.00" r="1.9" fill="#3eaa3a"/>
<circle cx="499.00" cy="342.00" r="1.9" fill="#3eaa3a"/>
<circle cx="506.00" cy="342.00" r="1.9" fill="#3eaa3a"/>
<line x1="455.50" y1="292.05" x2="455.50" y2="359.00" stroke="#222" stroke-width="1.0"/>
<line x1="453.10" y1="358.50" x2="513.00" y2="358.50" stroke="#222" stroke-width="1.0"/>
<line x1="453.10" y1="358.30" x2="455.50" y2="358.30" stroke="#222" stroke-width="0.8"/>
<text x="449.70" y="360.30" font-size="6.2" text-anchor="end" fill="#3a3a3a" stroke="#3a3a3a" stroke-width="0.2">0</text>
<line x1="453.10" y1="345.55" x2="455.50" y2="345.55" stroke="#222" stroke-width="0.8"/>
<text x="449.70" y="347.55" font-size="6.2" text-anchor="end" fill="#3a3a3a" stroke="#3a3a3a" stroke-width="0.2">50</text>
<line x1="453.10" y1="332.80" x2="455.50" y2="332.80" stroke="#222" stroke-width="0.8"/>
<text x="449.70" y="334.80" font-size="6.2" text-anchor="end" fill="#3a3a3a" stroke="#3a3a3a" stroke-width="0.2">100</text>
<line x1="453.10" y1="320.05" x2="455.50" y2="320.05" stroke="#222" stroke-width="0.8"/>
<text x="449.70" y="322.05" font-size="6.2" text-anchor="end" fill="#3a3a3a" stroke="#3a3a3a" stroke-width="0.2">150</text>
<line x1="453.10" y1="307.30" x2="455.50" y2="307.30" stroke="#222" stroke-width="0.8"/>
<text x="449.70" y="309.30" font-size="6.2" text-anchor="end" fill="#3a3a3a" stroke="#3a3a3a" stroke-width="0.2">200</text>
<line x1="453.10" y1="294.55" x2="455.50" y2="294.55" stroke="#222" stroke-width="0.8"/>
<text x="449.70" y="296.55" font-size="6.2" text-anchor="end" fill="#3a3a3a" stroke="#3a3a3a" stroke-width="0.2">250</text>
<line x1="464.70" y1="358.50" x2="464.70" y2="361.30" stroke="#222" stroke-width="0.9"/>
<line x1="484.00" y1="358.50" x2="484.00" y2="361.30" stroke="#222" stroke-width="0.9"/>
<line x1="502.40" y1="358.50" x2="502.40" y2="361.30" stroke="#222" stroke-width="0.9"/>
<path d="M464.50,328.70 L464.50,294.50 L484.50,294.50 L484.50,297.70" fill="none" stroke="#2a2a2a" stroke-width="1"/>
<text x="474.35" y="293.70" font-size="6.2" text-anchor="middle" fill="#333" stroke="#333" stroke-width="0.2">*</text>
<text x="418.90" y="278.80" font-size="12.2" text-anchor="start" fill="#000" font-weight="bold">L</text>
<text transform="translate(422.40,324.20) rotate(-90)" font-size="8.2" font-weight="bold" text-anchor="middle" fill="#2a2a2a" textLength="51.0" lengthAdjust="spacingAndGlyphs">Circulating Ly6C<tspan font-size="4.5" dy="-2.5">high</tspan></text>
<text transform="translate(432.30,324.50) rotate(-90)" font-size="8.2" font-weight="bold" text-anchor="middle" fill="#2a2a2a" textLength="56.5" lengthAdjust="spacingAndGlyphs">monocytes (cells/µL)</text>
<text x="464.70" y="370.00" font-size="6.4" text-anchor="middle" fill="#2a2a2a" stroke="#2a2a2a" stroke-width="0.2" textLength="16.20" lengthAdjust="spacingAndGlyphs">Young</text>
<text x="464.70" y="377.80" font-size="6.4" text-anchor="middle" fill="#2a2a2a" stroke="#2a2a2a" stroke-width="0.2" textLength="9.60" lengthAdjust="spacingAndGlyphs">WT</text>
<text x="484.00" y="370.00" font-size="6.4" text-anchor="middle" fill="#2a2a2a" stroke="#2a2a2a" stroke-width="0.2" textLength="9.80" lengthAdjust="spacingAndGlyphs">Old</text>
<text x="484.00" y="377.80" font-size="6.4" text-anchor="middle" fill="#2a2a2a" stroke="#2a2a2a" stroke-width="0.2" textLength="9.60" lengthAdjust="spacingAndGlyphs">WT</text>
<text x="502.40" y="370.00" font-size="6.4" text-anchor="middle" fill="#2a2a2a" stroke="#2a2a2a" stroke-width="0.2" textLength="9.80" lengthAdjust="spacingAndGlyphs">Old</text>
<text x="493.60" y="377.80" font-size="6.4" text-anchor="start" fill="#2a2a2a" stroke="#2a2a2a" stroke-width="0.2" textLength="17.60" lengthAdjust="spacingAndGlyphs">TNF<tspan font-size="4.4" dy="-2.3">-/-</tspan></text>
</svg>
</body></html>
